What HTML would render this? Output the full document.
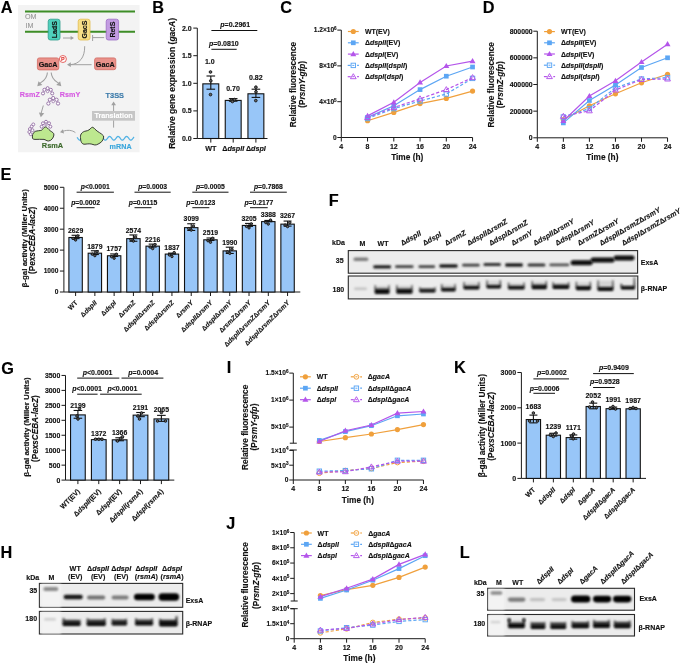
<!DOCTYPE html>
<html><head><meta charset="utf-8"><title>Figure</title>
<style>html,body{margin:0;padding:0;background:#fff;width:685px;height:664px;overflow:hidden}
svg{display:block;will-change:transform;font-family:"Liberation Sans", sans-serif}</style></head>
<body>
<svg width="685" height="664" viewBox="0 0 685 664" font-family='"Liberation Sans", sans-serif'>
<defs><filter id="bl" x="-20%" y="-80%" width="140%" height="260%"><feGaussianBlur stdDeviation="0.8"/></filter><filter id="bl2" x="-20%" y="-80%" width="140%" height="260%"><feGaussianBlur stdDeviation="1.1"/></filter><filter id="bl3" x="-30%" y="-100%" width="160%" height="300%"><feGaussianBlur stdDeviation="1.05"/></filter><linearGradient id="ug" x1="0" y1="0" x2="0" y2="1"><stop offset="0" stop-color="#6a6a6a"/><stop offset="0.45" stop-color="#2a2a2a"/><stop offset="0.7" stop-color="#0a0a0a"/><stop offset="1" stop-color="#050505"/></linearGradient></defs>
<text x="0.70" y="13.10" font-size="16.30" font-weight="bold" text-anchor="start" fill="#000" stroke="#000" stroke-width="0.14">A</text>
<text x="152.30" y="13.30" font-size="16.30" font-weight="bold" text-anchor="start" fill="#000" stroke="#000" stroke-width="0.14">B</text>
<text x="280.20" y="13.30" font-size="16.30" font-weight="bold" text-anchor="start" fill="#000" stroke="#000" stroke-width="0.14">C</text>
<text x="482.70" y="13.30" font-size="16.30" font-weight="bold" text-anchor="start" fill="#000" stroke="#000" stroke-width="0.14">D</text>
<text x="0.50" y="179.50" font-size="16.30" font-weight="bold" text-anchor="start" fill="#000" stroke="#000" stroke-width="0.14">E</text>
<text x="328.70" y="205.90" font-size="16.30" font-weight="bold" text-anchor="start" fill="#000" stroke="#000" stroke-width="0.14">F</text>
<text x="1.20" y="373.70" font-size="16.30" font-weight="bold" text-anchor="start" fill="#000" stroke="#000" stroke-width="0.14">G</text>
<text x="0.60" y="558.30" font-size="16.30" font-weight="bold" text-anchor="start" fill="#000" stroke="#000" stroke-width="0.14">H</text>
<text x="226.70" y="373.30" font-size="16.30" font-weight="bold" text-anchor="start" fill="#000" stroke="#000" stroke-width="0.14">I</text>
<text x="226.20" y="529.10" font-size="16.30" font-weight="bold" text-anchor="start" fill="#000" stroke="#000" stroke-width="0.14">J</text>
<text x="454.10" y="373.30" font-size="16.30" font-weight="bold" text-anchor="start" fill="#000" stroke="#000" stroke-width="0.14">K</text>
<text x="459.70" y="557.70" font-size="16.30" font-weight="bold" text-anchor="start" fill="#000" stroke="#000" stroke-width="0.14">L</text>
<line x1="197.30" y1="28.10" x2="197.30" y2="138.50" stroke="#1a1a1a" stroke-width="1.00"/>
<line x1="193.30" y1="138.50" x2="197.30" y2="138.50" stroke="#1a1a1a" stroke-width="1.00"/>
<text x="191.70" y="141.02" font-size="7.00" font-weight="bold" text-anchor="end" fill="#111" stroke="#111" stroke-width="0.14">0.0</text>
<line x1="193.30" y1="110.90" x2="197.30" y2="110.90" stroke="#1a1a1a" stroke-width="1.00"/>
<text x="191.70" y="113.42" font-size="7.00" font-weight="bold" text-anchor="end" fill="#111" stroke="#111" stroke-width="0.14">0.5</text>
<line x1="193.30" y1="83.30" x2="197.30" y2="83.30" stroke="#1a1a1a" stroke-width="1.00"/>
<text x="191.70" y="85.82" font-size="7.00" font-weight="bold" text-anchor="end" fill="#111" stroke="#111" stroke-width="0.14">1.0</text>
<line x1="193.30" y1="55.70" x2="197.30" y2="55.70" stroke="#1a1a1a" stroke-width="1.00"/>
<text x="191.70" y="58.22" font-size="7.00" font-weight="bold" text-anchor="end" fill="#111" stroke="#111" stroke-width="0.14">1.5</text>
<line x1="193.30" y1="28.10" x2="197.30" y2="28.10" stroke="#1a1a1a" stroke-width="1.00"/>
<text x="191.70" y="30.62" font-size="7.00" font-weight="bold" text-anchor="end" fill="#111" stroke="#111" stroke-width="0.14">2.0</text>
<line x1="197.30" y1="138.50" x2="267.50" y2="138.50" stroke="#1a1a1a" stroke-width="1.00"/>
<line x1="210.80" y1="138.50" x2="210.80" y2="142.60" stroke="#1a1a1a" stroke-width="1.00"/>
<line x1="233.20" y1="138.50" x2="233.20" y2="142.60" stroke="#1a1a1a" stroke-width="1.00"/>
<line x1="255.90" y1="138.50" x2="255.90" y2="142.60" stroke="#1a1a1a" stroke-width="1.00"/>
<rect x="202.85" y="83.85" width="15.90" height="54.65" fill="#98c6f8" stroke="#111" stroke-width="1.10" rx="0.00"/>
<rect x="225.25" y="100.41" width="15.90" height="38.09" fill="#98c6f8" stroke="#111" stroke-width="1.10" rx="0.00"/>
<rect x="247.95" y="93.79" width="15.90" height="44.71" fill="#98c6f8" stroke="#111" stroke-width="1.10" rx="0.00"/>
<line x1="210.80" y1="76.00" x2="210.80" y2="89.20" stroke="#111" stroke-width="1.10"/>
<line x1="206.50" y1="76.00" x2="215.10" y2="76.00" stroke="#111" stroke-width="1.10"/>
<line x1="206.50" y1="89.20" x2="215.10" y2="89.20" stroke="#111" stroke-width="1.10"/>
<circle cx="210.50" cy="72.00" r="1.35" fill="#666" stroke="#111" stroke-width="0.90"/>
<circle cx="210.80" cy="80.80" r="1.35" fill="#666" stroke="#111" stroke-width="0.90"/>
<circle cx="210.50" cy="94.60" r="1.35" fill="#666" stroke="#111" stroke-width="0.90"/>
<line x1="233.20" y1="98.60" x2="233.20" y2="101.20" stroke="#111" stroke-width="1.10"/>
<line x1="228.90" y1="98.60" x2="237.50" y2="98.60" stroke="#111" stroke-width="1.10"/>
<line x1="228.90" y1="101.20" x2="237.50" y2="101.20" stroke="#111" stroke-width="1.10"/>
<circle cx="231.50" cy="100.20" r="1.35" fill="#666" stroke="#111" stroke-width="0.90"/>
<circle cx="234.50" cy="99.60" r="1.35" fill="#666" stroke="#111" stroke-width="0.90"/>
<circle cx="232.40" cy="101.50" r="1.35" fill="#666" stroke="#111" stroke-width="0.90"/>
<line x1="255.90" y1="89.20" x2="255.90" y2="97.40" stroke="#111" stroke-width="1.10"/>
<line x1="251.60" y1="89.20" x2="260.20" y2="89.20" stroke="#111" stroke-width="1.10"/>
<line x1="251.60" y1="97.40" x2="260.20" y2="97.40" stroke="#111" stroke-width="1.10"/>
<circle cx="255.90" cy="87.20" r="1.35" fill="#666" stroke="#111" stroke-width="0.90"/>
<circle cx="256.00" cy="91.80" r="1.35" fill="#666" stroke="#111" stroke-width="0.90"/>
<circle cx="255.80" cy="100.60" r="1.35" fill="#666" stroke="#111" stroke-width="0.90"/>
<text x="209.80" y="64.20" font-size="7.00" font-weight="bold" text-anchor="middle" fill="#111" stroke="#111" stroke-width="0.14">1.0</text>
<text x="233.00" y="91.00" font-size="7.00" font-weight="bold" text-anchor="middle" fill="#111" stroke="#111" stroke-width="0.14">0.70</text>
<text x="255.80" y="80.20" font-size="7.00" font-weight="bold" text-anchor="middle" fill="#111" stroke="#111" stroke-width="0.14">0.82</text>
<line x1="211.40" y1="30.50" x2="257.30" y2="30.50" stroke="#111" stroke-width="1.00"/>
<text x="235.20" y="27.00" font-size="7.00" font-weight="bold" text-anchor="middle" fill="#111" stroke="#111" stroke-width="0.14"><tspan font-style="italic">p</tspan>=0.2961</text>
<line x1="211.40" y1="49.30" x2="236.70" y2="49.30" stroke="#111" stroke-width="1.00"/>
<text x="223.80" y="46.00" font-size="7.00" font-weight="bold" text-anchor="middle" fill="#111" stroke="#111" stroke-width="0.14"><tspan font-style="italic">p</tspan>=0.0810</text>
<text x="210.80" y="150.60" font-size="7.20" font-weight="bold" text-anchor="middle" fill="#111" stroke="#111" stroke-width="0.14">WT</text>
<text x="233.20" y="150.60" font-size="7.20" font-weight="bold" text-anchor="middle" fill="#111" stroke="#111" stroke-width="0.14">Δ<tspan font-style="italic">dspII</tspan></text>
<text x="255.90" y="150.60" font-size="7.20" font-weight="bold" text-anchor="middle" fill="#111" stroke="#111" stroke-width="0.14">Δ<tspan font-style="italic">dspI</tspan></text>
<text x="175.20" y="83.40" font-size="8.50" font-weight="bold" text-anchor="middle" fill="#111" transform="rotate(-90.00 175.20 83.40)" stroke="#111" stroke-width="0.14">Relative gene expression (<tspan font-style="italic">gacA</tspan>)</text>
<line x1="341.30" y1="30.10" x2="341.30" y2="137.50" stroke="#1a1a1a" stroke-width="1.00"/>
<line x1="337.30" y1="137.50" x2="341.30" y2="137.50" stroke="#1a1a1a" stroke-width="1.00"/>
<text x="336.70" y="139.88" font-size="6.60" font-weight="bold" text-anchor="end" fill="#111" stroke="#111" stroke-width="0.14">0</text>
<line x1="337.30" y1="101.70" x2="341.30" y2="101.70" stroke="#1a1a1a" stroke-width="1.00"/>
<text x="336.70" y="104.08" font-size="6.60" font-weight="bold" text-anchor="end" fill="#111" stroke="#111" stroke-width="0.14">4×10<tspan dy="-2.38" font-size="4.62">5</tspan><tspan dy="2.38"> </tspan></text>
<line x1="337.30" y1="65.90" x2="341.30" y2="65.90" stroke="#1a1a1a" stroke-width="1.00"/>
<text x="336.70" y="68.28" font-size="6.60" font-weight="bold" text-anchor="end" fill="#111" stroke="#111" stroke-width="0.14">8×10<tspan dy="-2.38" font-size="4.62">5</tspan><tspan dy="2.38"> </tspan></text>
<line x1="337.30" y1="30.10" x2="341.30" y2="30.10" stroke="#1a1a1a" stroke-width="1.00"/>
<text x="336.70" y="32.48" font-size="6.60" font-weight="bold" text-anchor="end" fill="#111" stroke="#111" stroke-width="0.14">1.2×10<tspan dy="-2.38" font-size="4.62">6</tspan><tspan dy="2.38"> </tspan></text>
<line x1="341.30" y1="137.50" x2="472.55" y2="137.50" stroke="#1a1a1a" stroke-width="1.00"/>
<line x1="341.30" y1="137.50" x2="341.30" y2="141.50" stroke="#1a1a1a" stroke-width="1.00"/>
<text x="341.30" y="148.80" font-size="7.00" font-weight="bold" text-anchor="middle" fill="#111" stroke="#111" stroke-width="0.14">4</text>
<line x1="367.55" y1="137.50" x2="367.55" y2="141.50" stroke="#1a1a1a" stroke-width="1.00"/>
<text x="367.55" y="148.80" font-size="7.00" font-weight="bold" text-anchor="middle" fill="#111" stroke="#111" stroke-width="0.14">8</text>
<line x1="393.80" y1="137.50" x2="393.80" y2="141.50" stroke="#1a1a1a" stroke-width="1.00"/>
<text x="393.80" y="148.80" font-size="7.00" font-weight="bold" text-anchor="middle" fill="#111" stroke="#111" stroke-width="0.14">12</text>
<line x1="420.05" y1="137.50" x2="420.05" y2="141.50" stroke="#1a1a1a" stroke-width="1.00"/>
<text x="420.05" y="148.80" font-size="7.00" font-weight="bold" text-anchor="middle" fill="#111" stroke="#111" stroke-width="0.14">16</text>
<line x1="446.30" y1="137.50" x2="446.30" y2="141.50" stroke="#1a1a1a" stroke-width="1.00"/>
<text x="446.30" y="148.80" font-size="7.00" font-weight="bold" text-anchor="middle" fill="#111" stroke="#111" stroke-width="0.14">20</text>
<line x1="472.55" y1="137.50" x2="472.55" y2="141.50" stroke="#1a1a1a" stroke-width="1.00"/>
<text x="472.55" y="148.80" font-size="7.00" font-weight="bold" text-anchor="middle" fill="#111" stroke="#111" stroke-width="0.14">24</text>
<text x="407.20" y="159.90" font-size="8.30" font-weight="bold" text-anchor="middle" fill="#111" stroke="#111" stroke-width="0.14">Time (h)</text>
<polyline points="367.55,120.70 393.80,112.40 420.05,103.60 446.30,98.40 472.55,91.10" fill="none" stroke="#f0a03c" stroke-width="1.20"/>
<circle cx="367.55" cy="120.70" r="2.60" fill="#f0a03c" stroke="none" stroke-width="1.00"/>
<circle cx="393.80" cy="112.40" r="2.60" fill="#f0a03c" stroke="none" stroke-width="1.00"/>
<circle cx="420.05" cy="103.60" r="2.60" fill="#f0a03c" stroke="none" stroke-width="1.00"/>
<circle cx="446.30" cy="98.40" r="2.60" fill="#f0a03c" stroke="none" stroke-width="1.00"/>
<circle cx="472.55" cy="91.10" r="2.60" fill="#f0a03c" stroke="none" stroke-width="1.00"/>
<polyline points="367.55,117.40 393.80,105.80 420.05,89.60 446.30,76.20 472.55,67.00" fill="none" stroke="#5ca6f4" stroke-width="1.20"/>
<rect x="365.20" y="115.05" width="4.70" height="4.70" fill="#5ca6f4" stroke="none" stroke-width="1.00" rx="0.00"/>
<rect x="391.45" y="103.45" width="4.70" height="4.70" fill="#5ca6f4" stroke="none" stroke-width="1.00" rx="0.00"/>
<rect x="417.70" y="87.25" width="4.70" height="4.70" fill="#5ca6f4" stroke="none" stroke-width="1.00" rx="0.00"/>
<rect x="443.95" y="73.85" width="4.70" height="4.70" fill="#5ca6f4" stroke="none" stroke-width="1.00" rx="0.00"/>
<rect x="470.20" y="64.65" width="4.70" height="4.70" fill="#5ca6f4" stroke="none" stroke-width="1.00" rx="0.00"/>
<polyline points="367.55,115.90 393.80,102.30 420.05,82.40 446.30,66.00 472.55,61.10" fill="none" stroke="#b455ea" stroke-width="1.20"/>
<path d="M367.55 112.78 L370.55 117.98 L364.55 117.98 Z" fill="#b455ea" stroke="none" stroke-width="1.00"/>
<path d="M393.80 99.18 L396.80 104.38 L390.80 104.38 Z" fill="#b455ea" stroke="none" stroke-width="1.00"/>
<path d="M420.05 79.28 L423.05 84.48 L417.05 84.48 Z" fill="#b455ea" stroke="none" stroke-width="1.00"/>
<path d="M446.30 62.88 L449.30 68.08 L443.30 68.08 Z" fill="#b455ea" stroke="none" stroke-width="1.00"/>
<path d="M472.55 57.98 L475.55 63.18 L469.55 63.18 Z" fill="#b455ea" stroke="none" stroke-width="1.00"/>
<polyline points="367.55,118.50 393.80,108.60 420.05,101.00 446.30,94.00 472.55,78.40" fill="none" stroke="#5ca6f4" stroke-width="1.20" stroke-dasharray="3.2,2.0"/>
<rect x="365.35" y="116.30" width="4.40" height="4.40" fill="none" stroke="#5ca6f4" stroke-width="0.95" rx="0.00"/>
<rect x="391.60" y="106.40" width="4.40" height="4.40" fill="none" stroke="#5ca6f4" stroke-width="0.95" rx="0.00"/>
<rect x="417.85" y="98.80" width="4.40" height="4.40" fill="none" stroke="#5ca6f4" stroke-width="0.95" rx="0.00"/>
<rect x="444.10" y="91.80" width="4.40" height="4.40" fill="none" stroke="#5ca6f4" stroke-width="0.95" rx="0.00"/>
<rect x="470.35" y="76.20" width="4.40" height="4.40" fill="none" stroke="#5ca6f4" stroke-width="0.95" rx="0.00"/>
<polyline points="367.55,117.50 393.80,107.50 420.05,98.80 446.30,89.60 472.55,77.60" fill="none" stroke="#b455ea" stroke-width="1.20" stroke-dasharray="3.2,2.0"/>
<path d="M367.55 114.50 L370.45 119.50 L364.65 119.50 Z" fill="none" stroke="#b455ea" stroke-width="0.95"/>
<path d="M393.80 104.50 L396.70 109.50 L390.90 109.50 Z" fill="none" stroke="#b455ea" stroke-width="0.95"/>
<path d="M420.05 95.80 L422.95 100.80 L417.15 100.80 Z" fill="none" stroke="#b455ea" stroke-width="0.95"/>
<path d="M446.30 86.60 L449.20 91.60 L443.40 91.60 Z" fill="none" stroke="#b455ea" stroke-width="0.95"/>
<path d="M472.55 74.60 L475.45 79.60 L469.65 79.60 Z" fill="none" stroke="#b455ea" stroke-width="0.95"/>
<line x1="347.90" y1="31.50" x2="358.70" y2="31.50" stroke="#f0a03c" stroke-width="1.20"/>
<circle cx="353.30" cy="31.50" r="2.60" fill="#f0a03c" stroke="none" stroke-width="1.00"/>
<text x="364.90" y="34.00" font-size="7.00" font-weight="bold" text-anchor="start" fill="#111" stroke="#111" stroke-width="0.14">WT(EV)</text>
<line x1="347.90" y1="42.80" x2="358.70" y2="42.80" stroke="#5ca6f4" stroke-width="1.20"/>
<rect x="350.95" y="40.45" width="4.70" height="4.70" fill="#5ca6f4" stroke="none" stroke-width="1.00" rx="0.00"/>
<text x="364.90" y="45.30" font-size="7.00" font-weight="bold" text-anchor="start" fill="#111" stroke="#111" stroke-width="0.14">Δ<tspan font-style="italic">dspII</tspan>(EV)</text>
<line x1="347.90" y1="54.10" x2="358.70" y2="54.10" stroke="#b455ea" stroke-width="1.20"/>
<path d="M353.30 50.98 L356.30 56.18 L350.30 56.18 Z" fill="#b455ea" stroke="none" stroke-width="1.00"/>
<text x="364.90" y="56.60" font-size="7.00" font-weight="bold" text-anchor="start" fill="#111" stroke="#111" stroke-width="0.14">Δ<tspan font-style="italic">dspI</tspan>(EV)</text>
<line x1="347.70" y1="65.40" x2="350.70" y2="65.40" stroke="#5ca6f4" stroke-width="1.20"/>
<line x1="352.30" y1="65.40" x2="354.30" y2="65.40" stroke="#5ca6f4" stroke-width="1.00"/>
<line x1="357.10" y1="65.40" x2="358.90" y2="65.40" stroke="#5ca6f4" stroke-width="1.20"/>
<rect x="351.10" y="63.20" width="4.40" height="4.40" fill="none" stroke="#5ca6f4" stroke-width="0.95" rx="0.00"/>
<text x="364.90" y="67.90" font-size="7.00" font-weight="bold" text-anchor="start" fill="#111" stroke="#111" stroke-width="0.14">Δ<tspan font-style="italic">dspII</tspan>(<tspan font-style="italic">dspII</tspan>)</text>
<line x1="347.70" y1="76.70" x2="350.70" y2="76.70" stroke="#b455ea" stroke-width="1.20"/>
<line x1="352.30" y1="76.70" x2="354.30" y2="76.70" stroke="#b455ea" stroke-width="1.00"/>
<line x1="357.10" y1="76.70" x2="358.90" y2="76.70" stroke="#b455ea" stroke-width="1.20"/>
<path d="M353.30 73.70 L356.20 78.70 L350.40 78.70 Z" fill="none" stroke="#b455ea" stroke-width="0.95"/>
<text x="364.90" y="79.20" font-size="7.00" font-weight="bold" text-anchor="start" fill="#111" stroke="#111" stroke-width="0.14">Δ<tspan font-style="italic">dspI</tspan>(<tspan font-style="italic">dspI</tspan>)</text>
<text x="295.60" y="84.50" font-size="8.30" font-weight="bold" text-anchor="middle" fill="#111" transform="rotate(-90.00 295.60 84.50)" stroke="#111" stroke-width="0.14">Relative fluorescence</text>
<text x="304.90" y="84.30" font-size="8.30" font-weight="bold" text-anchor="middle" fill="#111" transform="rotate(-90.00 304.90 84.30)" stroke="#111" stroke-width="0.14">(P<tspan font-style="italic">rsmY-gfp</tspan>)</text>
<line x1="537.30" y1="31.20" x2="537.30" y2="137.80" stroke="#1a1a1a" stroke-width="1.00"/>
<line x1="533.30" y1="137.80" x2="537.30" y2="137.80" stroke="#1a1a1a" stroke-width="1.00"/>
<text x="532.70" y="140.28" font-size="6.90" font-weight="bold" text-anchor="end" fill="#111" stroke="#111" stroke-width="0.14">0</text>
<line x1="533.30" y1="111.15" x2="537.30" y2="111.15" stroke="#1a1a1a" stroke-width="1.00"/>
<text x="532.70" y="113.63" font-size="6.90" font-weight="bold" text-anchor="end" fill="#111" stroke="#111" stroke-width="0.14">200000</text>
<line x1="533.30" y1="84.50" x2="537.30" y2="84.50" stroke="#1a1a1a" stroke-width="1.00"/>
<text x="532.70" y="86.98" font-size="6.90" font-weight="bold" text-anchor="end" fill="#111" stroke="#111" stroke-width="0.14">400000</text>
<line x1="533.30" y1="57.85" x2="537.30" y2="57.85" stroke="#1a1a1a" stroke-width="1.00"/>
<text x="532.70" y="60.33" font-size="6.90" font-weight="bold" text-anchor="end" fill="#111" stroke="#111" stroke-width="0.14">600000</text>
<line x1="533.30" y1="31.20" x2="537.30" y2="31.20" stroke="#1a1a1a" stroke-width="1.00"/>
<text x="532.70" y="33.68" font-size="6.90" font-weight="bold" text-anchor="end" fill="#111" stroke="#111" stroke-width="0.14">800000</text>
<line x1="537.30" y1="137.80" x2="667.55" y2="137.80" stroke="#1a1a1a" stroke-width="1.00"/>
<line x1="537.30" y1="137.80" x2="537.30" y2="141.80" stroke="#1a1a1a" stroke-width="1.00"/>
<text x="537.30" y="149.10" font-size="7.00" font-weight="bold" text-anchor="middle" fill="#111" stroke="#111" stroke-width="0.14">4</text>
<line x1="563.35" y1="137.80" x2="563.35" y2="141.80" stroke="#1a1a1a" stroke-width="1.00"/>
<text x="563.35" y="149.10" font-size="7.00" font-weight="bold" text-anchor="middle" fill="#111" stroke="#111" stroke-width="0.14">8</text>
<line x1="589.40" y1="137.80" x2="589.40" y2="141.80" stroke="#1a1a1a" stroke-width="1.00"/>
<text x="589.40" y="149.10" font-size="7.00" font-weight="bold" text-anchor="middle" fill="#111" stroke="#111" stroke-width="0.14">12</text>
<line x1="615.45" y1="137.80" x2="615.45" y2="141.80" stroke="#1a1a1a" stroke-width="1.00"/>
<text x="615.45" y="149.10" font-size="7.00" font-weight="bold" text-anchor="middle" fill="#111" stroke="#111" stroke-width="0.14">16</text>
<line x1="641.50" y1="137.80" x2="641.50" y2="141.80" stroke="#1a1a1a" stroke-width="1.00"/>
<text x="641.50" y="149.10" font-size="7.00" font-weight="bold" text-anchor="middle" fill="#111" stroke="#111" stroke-width="0.14">20</text>
<line x1="667.55" y1="137.80" x2="667.55" y2="141.80" stroke="#1a1a1a" stroke-width="1.00"/>
<text x="667.55" y="149.10" font-size="7.00" font-weight="bold" text-anchor="middle" fill="#111" stroke="#111" stroke-width="0.14">24</text>
<text x="602.40" y="160.20" font-size="8.30" font-weight="bold" text-anchor="middle" fill="#111" stroke="#111" stroke-width="0.14">Time (h)</text>
<polyline points="563.35,119.50 589.40,105.80 615.45,93.80 641.50,82.80 667.55,74.30" fill="none" stroke="#f0a03c" stroke-width="1.20"/>
<circle cx="563.35" cy="119.50" r="2.60" fill="#f0a03c" stroke="none" stroke-width="1.00"/>
<circle cx="589.40" cy="105.80" r="2.60" fill="#f0a03c" stroke="none" stroke-width="1.00"/>
<circle cx="615.45" cy="93.80" r="2.60" fill="#f0a03c" stroke="none" stroke-width="1.00"/>
<circle cx="641.50" cy="82.80" r="2.60" fill="#f0a03c" stroke="none" stroke-width="1.00"/>
<circle cx="667.55" cy="74.30" r="2.60" fill="#f0a03c" stroke="none" stroke-width="1.00"/>
<polyline points="563.35,122.90 589.40,100.50 615.45,85.00 641.50,67.50 667.55,57.80" fill="none" stroke="#5ca6f4" stroke-width="1.20"/>
<rect x="561.00" y="120.55" width="4.70" height="4.70" fill="#5ca6f4" stroke="none" stroke-width="1.00" rx="0.00"/>
<rect x="587.05" y="98.15" width="4.70" height="4.70" fill="#5ca6f4" stroke="none" stroke-width="1.00" rx="0.00"/>
<rect x="613.10" y="82.65" width="4.70" height="4.70" fill="#5ca6f4" stroke="none" stroke-width="1.00" rx="0.00"/>
<rect x="639.15" y="65.15" width="4.70" height="4.70" fill="#5ca6f4" stroke="none" stroke-width="1.00" rx="0.00"/>
<rect x="665.20" y="55.45" width="4.70" height="4.70" fill="#5ca6f4" stroke="none" stroke-width="1.00" rx="0.00"/>
<polyline points="563.35,121.00 589.40,96.00 615.45,80.80 641.50,62.00 667.55,44.20" fill="none" stroke="#b455ea" stroke-width="1.20"/>
<path d="M563.35 117.88 L566.35 123.08 L560.35 123.08 Z" fill="#b455ea" stroke="none" stroke-width="1.00"/>
<path d="M589.40 92.88 L592.40 98.08 L586.40 98.08 Z" fill="#b455ea" stroke="none" stroke-width="1.00"/>
<path d="M615.45 77.68 L618.45 82.88 L612.45 82.88 Z" fill="#b455ea" stroke="none" stroke-width="1.00"/>
<path d="M641.50 58.88 L644.50 64.08 L638.50 64.08 Z" fill="#b455ea" stroke="none" stroke-width="1.00"/>
<path d="M667.55 41.08 L670.55 46.28 L664.55 46.28 Z" fill="#b455ea" stroke="none" stroke-width="1.00"/>
<polyline points="563.35,117.00 589.40,108.60 615.45,87.80 641.50,79.00 667.55,77.60" fill="none" stroke="#5ca6f4" stroke-width="1.20" stroke-dasharray="3.2,2.0"/>
<rect x="561.15" y="114.80" width="4.40" height="4.40" fill="none" stroke="#5ca6f4" stroke-width="0.95" rx="0.00"/>
<rect x="587.20" y="106.40" width="4.40" height="4.40" fill="none" stroke="#5ca6f4" stroke-width="0.95" rx="0.00"/>
<rect x="613.25" y="85.60" width="4.40" height="4.40" fill="none" stroke="#5ca6f4" stroke-width="0.95" rx="0.00"/>
<rect x="639.30" y="76.80" width="4.40" height="4.40" fill="none" stroke="#5ca6f4" stroke-width="0.95" rx="0.00"/>
<rect x="665.35" y="75.40" width="4.40" height="4.40" fill="none" stroke="#5ca6f4" stroke-width="0.95" rx="0.00"/>
<polyline points="563.35,116.30 589.40,110.80 615.45,90.00 641.50,79.50 667.55,79.00" fill="none" stroke="#b455ea" stroke-width="1.20" stroke-dasharray="3.2,2.0"/>
<path d="M563.35 113.30 L566.25 118.30 L560.45 118.30 Z" fill="none" stroke="#b455ea" stroke-width="0.95"/>
<path d="M589.40 107.80 L592.30 112.80 L586.50 112.80 Z" fill="none" stroke="#b455ea" stroke-width="0.95"/>
<path d="M615.45 87.00 L618.35 92.00 L612.55 92.00 Z" fill="none" stroke="#b455ea" stroke-width="0.95"/>
<path d="M641.50 76.50 L644.40 81.50 L638.60 81.50 Z" fill="none" stroke="#b455ea" stroke-width="0.95"/>
<path d="M667.55 76.00 L670.45 81.00 L664.65 81.00 Z" fill="none" stroke="#b455ea" stroke-width="0.95"/>
<line x1="544.10" y1="31.60" x2="554.90" y2="31.60" stroke="#f0a03c" stroke-width="1.20"/>
<circle cx="549.50" cy="31.60" r="2.60" fill="#f0a03c" stroke="none" stroke-width="1.00"/>
<text x="561.00" y="34.10" font-size="7.00" font-weight="bold" text-anchor="start" fill="#111" stroke="#111" stroke-width="0.14">WT(EV)</text>
<line x1="544.10" y1="42.80" x2="554.90" y2="42.80" stroke="#5ca6f4" stroke-width="1.20"/>
<rect x="547.15" y="40.45" width="4.70" height="4.70" fill="#5ca6f4" stroke="none" stroke-width="1.00" rx="0.00"/>
<text x="561.00" y="45.30" font-size="7.00" font-weight="bold" text-anchor="start" fill="#111" stroke="#111" stroke-width="0.14">Δ<tspan font-style="italic">dspII</tspan>(EV)</text>
<line x1="544.10" y1="54.00" x2="554.90" y2="54.00" stroke="#b455ea" stroke-width="1.20"/>
<path d="M549.50 50.88 L552.50 56.08 L546.50 56.08 Z" fill="#b455ea" stroke="none" stroke-width="1.00"/>
<text x="561.00" y="56.50" font-size="7.00" font-weight="bold" text-anchor="start" fill="#111" stroke="#111" stroke-width="0.14">Δ<tspan font-style="italic">dspI</tspan>(EV)</text>
<line x1="543.90" y1="65.20" x2="546.90" y2="65.20" stroke="#5ca6f4" stroke-width="1.20"/>
<line x1="548.50" y1="65.20" x2="550.50" y2="65.20" stroke="#5ca6f4" stroke-width="1.00"/>
<line x1="553.30" y1="65.20" x2="555.10" y2="65.20" stroke="#5ca6f4" stroke-width="1.20"/>
<rect x="547.30" y="63.00" width="4.40" height="4.40" fill="none" stroke="#5ca6f4" stroke-width="0.95" rx="0.00"/>
<text x="561.00" y="67.70" font-size="7.00" font-weight="bold" text-anchor="start" fill="#111" stroke="#111" stroke-width="0.14">Δ<tspan font-style="italic">dspII</tspan>(<tspan font-style="italic">dspII</tspan>)</text>
<line x1="543.90" y1="76.60" x2="546.90" y2="76.60" stroke="#b455ea" stroke-width="1.20"/>
<line x1="548.50" y1="76.60" x2="550.50" y2="76.60" stroke="#b455ea" stroke-width="1.00"/>
<line x1="553.30" y1="76.60" x2="555.10" y2="76.60" stroke="#b455ea" stroke-width="1.20"/>
<path d="M549.50 73.60 L552.40 78.60 L546.60 78.60 Z" fill="none" stroke="#b455ea" stroke-width="0.95"/>
<text x="561.00" y="79.10" font-size="7.00" font-weight="bold" text-anchor="start" fill="#111" stroke="#111" stroke-width="0.14">Δ<tspan font-style="italic">dspI</tspan>(<tspan font-style="italic">dspI</tspan>)</text>
<text x="493.60" y="84.70" font-size="8.30" font-weight="bold" text-anchor="middle" fill="#111" transform="rotate(-90.00 493.60 84.70)" stroke="#111" stroke-width="0.14">Relative fluorescence</text>
<text x="502.80" y="84.70" font-size="8.30" font-weight="bold" text-anchor="middle" fill="#111" transform="rotate(-90.00 502.80 84.70)" stroke="#111" stroke-width="0.14">(P<tspan font-style="italic">rsmZ-gfp</tspan>)</text>
<line x1="63.90" y1="187.30" x2="63.90" y2="292.00" stroke="#1a1a1a" stroke-width="1.00"/>
<line x1="59.90" y1="292.00" x2="63.90" y2="292.00" stroke="#1a1a1a" stroke-width="1.00"/>
<text x="58.30" y="294.38" font-size="6.60" font-weight="bold" text-anchor="end" fill="#111" stroke="#111" stroke-width="0.14">0</text>
<line x1="59.90" y1="271.06" x2="63.90" y2="271.06" stroke="#1a1a1a" stroke-width="1.00"/>
<text x="58.30" y="273.44" font-size="6.60" font-weight="bold" text-anchor="end" fill="#111" stroke="#111" stroke-width="0.14">1000</text>
<line x1="59.90" y1="250.12" x2="63.90" y2="250.12" stroke="#1a1a1a" stroke-width="1.00"/>
<text x="58.30" y="252.50" font-size="6.60" font-weight="bold" text-anchor="end" fill="#111" stroke="#111" stroke-width="0.14">2000</text>
<line x1="59.90" y1="229.18" x2="63.90" y2="229.18" stroke="#1a1a1a" stroke-width="1.00"/>
<text x="58.30" y="231.56" font-size="6.60" font-weight="bold" text-anchor="end" fill="#111" stroke="#111" stroke-width="0.14">3000</text>
<line x1="59.90" y1="208.24" x2="63.90" y2="208.24" stroke="#1a1a1a" stroke-width="1.00"/>
<text x="58.30" y="210.62" font-size="6.60" font-weight="bold" text-anchor="end" fill="#111" stroke="#111" stroke-width="0.14">4000</text>
<line x1="59.90" y1="187.30" x2="63.90" y2="187.30" stroke="#1a1a1a" stroke-width="1.00"/>
<text x="58.30" y="189.68" font-size="6.60" font-weight="bold" text-anchor="end" fill="#111" stroke="#111" stroke-width="0.14">5000</text>
<line x1="63.90" y1="292.00" x2="300.30" y2="292.00" stroke="#1a1a1a" stroke-width="1.00"/>
<rect x="68.90" y="237.50" width="13.40" height="54.50" fill="#98c6f8" stroke="#111" stroke-width="1.10" rx="0.00"/>
<line x1="75.60" y1="238.62" x2="75.60" y2="235.27" stroke="#111" stroke-width="1.10"/>
<line x1="71.60" y1="238.62" x2="79.60" y2="238.62" stroke="#111" stroke-width="1.10"/>
<line x1="71.60" y1="235.27" x2="79.60" y2="235.27" stroke="#111" stroke-width="1.10"/>
<circle cx="73.10" cy="238.45" r="1.20" fill="#666" stroke="#111" stroke-width="0.90"/>
<circle cx="77.80" cy="235.95" r="1.20" fill="#666" stroke="#111" stroke-width="0.90"/>
<circle cx="75.60" cy="239.95" r="1.20" fill="#666" stroke="#111" stroke-width="0.90"/>
<text x="75.60" y="232.60" font-size="6.85" font-weight="bold" text-anchor="middle" fill="#111" stroke="#111" stroke-width="0.14">2629</text>
<line x1="75.60" y1="292.00" x2="75.60" y2="296.00" stroke="#1a1a1a" stroke-width="1.00"/>
<text x="78.00" y="303.20" font-size="6.60" font-weight="bold" text-anchor="end" fill="#111" transform="rotate(-45.00 78.00 303.20)" stroke="#111" stroke-width="0.14">WT</text>
<rect x="88.17" y="253.20" width="13.40" height="38.80" fill="#98c6f8" stroke="#111" stroke-width="1.10" rx="0.00"/>
<line x1="94.87" y1="254.54" x2="94.87" y2="250.77" stroke="#111" stroke-width="1.10"/>
<line x1="90.87" y1="254.54" x2="98.87" y2="254.54" stroke="#111" stroke-width="1.10"/>
<line x1="90.87" y1="250.77" x2="98.87" y2="250.77" stroke="#111" stroke-width="1.10"/>
<circle cx="92.37" cy="254.15" r="1.20" fill="#666" stroke="#111" stroke-width="0.90"/>
<circle cx="97.07" cy="251.65" r="1.20" fill="#666" stroke="#111" stroke-width="0.90"/>
<circle cx="94.87" cy="255.65" r="1.20" fill="#666" stroke="#111" stroke-width="0.90"/>
<text x="94.87" y="248.80" font-size="6.85" font-weight="bold" text-anchor="middle" fill="#111" stroke="#111" stroke-width="0.14">1879</text>
<line x1="94.87" y1="292.00" x2="94.87" y2="296.00" stroke="#1a1a1a" stroke-width="1.00"/>
<text x="97.27" y="303.20" font-size="6.60" font-weight="bold" text-anchor="end" fill="#111" transform="rotate(-45.00 97.27 303.20)" stroke="#111" stroke-width="0.14">Δ<tspan font-style="italic">dspII</tspan></text>
<rect x="107.44" y="255.76" width="13.40" height="36.24" fill="#98c6f8" stroke="#111" stroke-width="1.10" rx="0.00"/>
<line x1="114.14" y1="256.46" x2="114.14" y2="253.95" stroke="#111" stroke-width="1.10"/>
<line x1="110.14" y1="256.46" x2="118.14" y2="256.46" stroke="#111" stroke-width="1.10"/>
<line x1="110.14" y1="253.95" x2="118.14" y2="253.95" stroke="#111" stroke-width="1.10"/>
<circle cx="111.64" cy="256.71" r="1.20" fill="#666" stroke="#111" stroke-width="0.90"/>
<circle cx="116.34" cy="254.21" r="1.20" fill="#666" stroke="#111" stroke-width="0.90"/>
<circle cx="114.14" cy="258.21" r="1.20" fill="#666" stroke="#111" stroke-width="0.90"/>
<text x="114.14" y="251.20" font-size="6.85" font-weight="bold" text-anchor="middle" fill="#111" stroke="#111" stroke-width="0.14">1757</text>
<line x1="114.14" y1="292.00" x2="114.14" y2="296.00" stroke="#1a1a1a" stroke-width="1.00"/>
<text x="116.54" y="303.20" font-size="6.60" font-weight="bold" text-anchor="end" fill="#111" transform="rotate(-45.00 116.54 303.20)" stroke="#111" stroke-width="0.14">Δ<tspan font-style="italic">dspI</tspan></text>
<rect x="126.71" y="238.65" width="13.40" height="53.35" fill="#98c6f8" stroke="#111" stroke-width="1.10" rx="0.00"/>
<line x1="133.41" y1="241.24" x2="133.41" y2="234.96" stroke="#111" stroke-width="1.10"/>
<line x1="129.41" y1="241.24" x2="137.41" y2="241.24" stroke="#111" stroke-width="1.10"/>
<line x1="129.41" y1="234.96" x2="137.41" y2="234.96" stroke="#111" stroke-width="1.10"/>
<circle cx="130.91" cy="239.60" r="1.20" fill="#666" stroke="#111" stroke-width="0.90"/>
<circle cx="135.61" cy="237.10" r="1.20" fill="#666" stroke="#111" stroke-width="0.90"/>
<circle cx="133.41" cy="241.10" r="1.20" fill="#666" stroke="#111" stroke-width="0.90"/>
<text x="133.41" y="233.00" font-size="6.85" font-weight="bold" text-anchor="middle" fill="#111" stroke="#111" stroke-width="0.14">2574</text>
<line x1="133.41" y1="292.00" x2="133.41" y2="296.00" stroke="#1a1a1a" stroke-width="1.00"/>
<text x="135.81" y="303.20" font-size="6.60" font-weight="bold" text-anchor="end" fill="#111" transform="rotate(-45.00 135.81 303.20)" stroke="#111" stroke-width="0.14">Δ<tspan font-style="italic">rsmZ</tspan></text>
<rect x="145.98" y="246.15" width="13.40" height="45.85" fill="#98c6f8" stroke="#111" stroke-width="1.10" rx="0.00"/>
<line x1="152.68" y1="247.06" x2="152.68" y2="244.13" stroke="#111" stroke-width="1.10"/>
<line x1="148.68" y1="247.06" x2="156.68" y2="247.06" stroke="#111" stroke-width="1.10"/>
<line x1="148.68" y1="244.13" x2="156.68" y2="244.13" stroke="#111" stroke-width="1.10"/>
<circle cx="150.18" cy="247.10" r="1.20" fill="#666" stroke="#111" stroke-width="0.90"/>
<circle cx="154.88" cy="244.60" r="1.20" fill="#666" stroke="#111" stroke-width="0.90"/>
<circle cx="152.68" cy="248.60" r="1.20" fill="#666" stroke="#111" stroke-width="0.90"/>
<text x="152.68" y="241.70" font-size="6.85" font-weight="bold" text-anchor="middle" fill="#111" stroke="#111" stroke-width="0.14">2216</text>
<line x1="152.68" y1="292.00" x2="152.68" y2="296.00" stroke="#1a1a1a" stroke-width="1.00"/>
<text x="155.08" y="303.20" font-size="6.60" font-weight="bold" text-anchor="end" fill="#111" transform="rotate(-45.00 155.08 303.20)" stroke="#111" stroke-width="0.14">Δ<tspan font-style="italic">dspII</tspan>Δ<tspan font-style="italic">rsmZ</tspan></text>
<rect x="165.25" y="254.08" width="13.40" height="37.92" fill="#98c6f8" stroke="#111" stroke-width="1.10" rx="0.00"/>
<line x1="171.95" y1="253.95" x2="171.95" y2="253.11" stroke="#111" stroke-width="1.10"/>
<line x1="167.95" y1="253.95" x2="175.95" y2="253.95" stroke="#111" stroke-width="1.10"/>
<line x1="167.95" y1="253.11" x2="175.95" y2="253.11" stroke="#111" stroke-width="1.10"/>
<circle cx="169.45" cy="255.03" r="1.20" fill="#666" stroke="#111" stroke-width="0.90"/>
<circle cx="174.15" cy="252.53" r="1.20" fill="#666" stroke="#111" stroke-width="0.90"/>
<circle cx="171.95" cy="256.53" r="1.20" fill="#666" stroke="#111" stroke-width="0.90"/>
<text x="171.95" y="250.10" font-size="6.85" font-weight="bold" text-anchor="middle" fill="#111" stroke="#111" stroke-width="0.14">1837</text>
<line x1="171.95" y1="292.00" x2="171.95" y2="296.00" stroke="#1a1a1a" stroke-width="1.00"/>
<text x="174.35" y="303.20" font-size="6.60" font-weight="bold" text-anchor="end" fill="#111" transform="rotate(-45.00 174.35 303.20)" stroke="#111" stroke-width="0.14">Δ<tspan font-style="italic">dspI</tspan>Δ<tspan font-style="italic">rsmZ</tspan></text>
<rect x="184.52" y="227.66" width="13.40" height="64.34" fill="#98c6f8" stroke="#111" stroke-width="1.10" rx="0.00"/>
<line x1="191.22" y1="230.46" x2="191.22" y2="223.76" stroke="#111" stroke-width="1.10"/>
<line x1="187.22" y1="230.46" x2="195.22" y2="230.46" stroke="#111" stroke-width="1.10"/>
<line x1="187.22" y1="223.76" x2="195.22" y2="223.76" stroke="#111" stroke-width="1.10"/>
<circle cx="188.72" cy="228.61" r="1.20" fill="#666" stroke="#111" stroke-width="0.90"/>
<circle cx="193.42" cy="226.11" r="1.20" fill="#666" stroke="#111" stroke-width="0.90"/>
<circle cx="191.22" cy="230.11" r="1.20" fill="#666" stroke="#111" stroke-width="0.90"/>
<text x="191.22" y="221.20" font-size="6.85" font-weight="bold" text-anchor="middle" fill="#111" stroke="#111" stroke-width="0.14">3099</text>
<line x1="191.22" y1="292.00" x2="191.22" y2="296.00" stroke="#1a1a1a" stroke-width="1.00"/>
<text x="193.62" y="303.20" font-size="6.60" font-weight="bold" text-anchor="end" fill="#111" transform="rotate(-45.00 193.62 303.20)" stroke="#111" stroke-width="0.14">Δ<tspan font-style="italic">rsmY</tspan></text>
<rect x="203.79" y="239.80" width="13.40" height="52.20" fill="#98c6f8" stroke="#111" stroke-width="1.10" rx="0.00"/>
<line x1="210.49" y1="240.51" x2="210.49" y2="238.00" stroke="#111" stroke-width="1.10"/>
<line x1="206.49" y1="240.51" x2="214.49" y2="240.51" stroke="#111" stroke-width="1.10"/>
<line x1="206.49" y1="238.00" x2="214.49" y2="238.00" stroke="#111" stroke-width="1.10"/>
<circle cx="207.99" cy="240.75" r="1.20" fill="#666" stroke="#111" stroke-width="0.90"/>
<circle cx="212.69" cy="238.25" r="1.20" fill="#666" stroke="#111" stroke-width="0.90"/>
<circle cx="210.49" cy="242.25" r="1.20" fill="#666" stroke="#111" stroke-width="0.90"/>
<text x="210.49" y="235.10" font-size="6.85" font-weight="bold" text-anchor="middle" fill="#111" stroke="#111" stroke-width="0.14">2519</text>
<line x1="210.49" y1="292.00" x2="210.49" y2="296.00" stroke="#1a1a1a" stroke-width="1.00"/>
<text x="212.89" y="303.20" font-size="6.60" font-weight="bold" text-anchor="end" fill="#111" transform="rotate(-45.00 212.89 303.20)" stroke="#111" stroke-width="0.14">Δ<tspan font-style="italic">dspII</tspan>Δ<tspan font-style="italic">rsmY</tspan></text>
<rect x="223.06" y="250.88" width="13.40" height="41.12" fill="#98c6f8" stroke="#111" stroke-width="1.10" rx="0.00"/>
<line x1="229.76" y1="253.47" x2="229.76" y2="247.19" stroke="#111" stroke-width="1.10"/>
<line x1="225.76" y1="253.47" x2="233.76" y2="253.47" stroke="#111" stroke-width="1.10"/>
<line x1="225.76" y1="247.19" x2="233.76" y2="247.19" stroke="#111" stroke-width="1.10"/>
<circle cx="227.26" cy="251.83" r="1.20" fill="#666" stroke="#111" stroke-width="0.90"/>
<circle cx="231.96" cy="249.33" r="1.20" fill="#666" stroke="#111" stroke-width="0.90"/>
<circle cx="229.76" cy="253.33" r="1.20" fill="#666" stroke="#111" stroke-width="0.90"/>
<text x="229.76" y="245.10" font-size="6.85" font-weight="bold" text-anchor="middle" fill="#111" stroke="#111" stroke-width="0.14">1990</text>
<line x1="229.76" y1="292.00" x2="229.76" y2="296.00" stroke="#1a1a1a" stroke-width="1.00"/>
<text x="232.16" y="303.20" font-size="6.60" font-weight="bold" text-anchor="end" fill="#111" transform="rotate(-45.00 232.16 303.20)" stroke="#111" stroke-width="0.14">Δ<tspan font-style="italic">dspI</tspan>Δ<tspan font-style="italic">rsmY</tspan></text>
<rect x="242.33" y="225.44" width="13.40" height="66.56" fill="#98c6f8" stroke="#111" stroke-width="1.10" rx="0.00"/>
<line x1="249.03" y1="226.35" x2="249.03" y2="223.42" stroke="#111" stroke-width="1.10"/>
<line x1="245.03" y1="226.35" x2="253.03" y2="226.35" stroke="#111" stroke-width="1.10"/>
<line x1="245.03" y1="223.42" x2="253.03" y2="223.42" stroke="#111" stroke-width="1.10"/>
<circle cx="246.53" cy="226.39" r="1.20" fill="#666" stroke="#111" stroke-width="0.90"/>
<circle cx="251.23" cy="223.89" r="1.20" fill="#666" stroke="#111" stroke-width="0.90"/>
<circle cx="249.03" cy="227.89" r="1.20" fill="#666" stroke="#111" stroke-width="0.90"/>
<text x="249.03" y="220.60" font-size="6.85" font-weight="bold" text-anchor="middle" fill="#111" stroke="#111" stroke-width="0.14">3205</text>
<line x1="249.03" y1="292.00" x2="249.03" y2="296.00" stroke="#1a1a1a" stroke-width="1.00"/>
<text x="251.43" y="303.20" font-size="6.60" font-weight="bold" text-anchor="end" fill="#111" transform="rotate(-45.00 251.43 303.20)" stroke="#111" stroke-width="0.14">Δ<tspan font-style="italic">rsmZ</tspan>Δ<tspan font-style="italic">rsmY</tspan></text>
<rect x="261.60" y="221.61" width="13.40" height="70.39" fill="#98c6f8" stroke="#111" stroke-width="1.10" rx="0.00"/>
<line x1="268.30" y1="221.68" x2="268.30" y2="220.43" stroke="#111" stroke-width="1.10"/>
<line x1="264.30" y1="221.68" x2="272.30" y2="221.68" stroke="#111" stroke-width="1.10"/>
<line x1="264.30" y1="220.43" x2="272.30" y2="220.43" stroke="#111" stroke-width="1.10"/>
<circle cx="265.80" cy="222.56" r="1.20" fill="#666" stroke="#111" stroke-width="0.90"/>
<circle cx="270.50" cy="220.06" r="1.20" fill="#666" stroke="#111" stroke-width="0.90"/>
<circle cx="268.30" cy="224.06" r="1.20" fill="#666" stroke="#111" stroke-width="0.90"/>
<text x="268.30" y="217.20" font-size="6.85" font-weight="bold" text-anchor="middle" fill="#111" stroke="#111" stroke-width="0.14">3388</text>
<line x1="268.30" y1="292.00" x2="268.30" y2="296.00" stroke="#1a1a1a" stroke-width="1.00"/>
<text x="270.70" y="303.20" font-size="6.60" font-weight="bold" text-anchor="end" fill="#111" transform="rotate(-45.00 270.70 303.20)" stroke="#111" stroke-width="0.14">Δ<tspan font-style="italic">dspII</tspan>Δ<tspan font-style="italic">rsmZ</tspan>Δ<tspan font-style="italic">rsmY</tspan></text>
<rect x="280.87" y="224.14" width="13.40" height="67.86" fill="#98c6f8" stroke="#111" stroke-width="1.10" rx="0.00"/>
<line x1="287.57" y1="226.10" x2="287.57" y2="221.08" stroke="#111" stroke-width="1.10"/>
<line x1="283.57" y1="226.10" x2="291.57" y2="226.10" stroke="#111" stroke-width="1.10"/>
<line x1="283.57" y1="221.08" x2="291.57" y2="221.08" stroke="#111" stroke-width="1.10"/>
<circle cx="285.07" cy="225.09" r="1.20" fill="#666" stroke="#111" stroke-width="0.90"/>
<circle cx="289.77" cy="222.59" r="1.20" fill="#666" stroke="#111" stroke-width="0.90"/>
<circle cx="287.57" cy="226.59" r="1.20" fill="#666" stroke="#111" stroke-width="0.90"/>
<text x="287.57" y="217.70" font-size="6.85" font-weight="bold" text-anchor="middle" fill="#111" stroke="#111" stroke-width="0.14">3267</text>
<line x1="287.57" y1="292.00" x2="287.57" y2="296.00" stroke="#1a1a1a" stroke-width="1.00"/>
<text x="289.97" y="303.20" font-size="6.60" font-weight="bold" text-anchor="end" fill="#111" transform="rotate(-45.00 289.97 303.20)" stroke="#111" stroke-width="0.14">Δ<tspan font-style="italic">dspI</tspan>Δ<tspan font-style="italic">rsmZ</tspan>Δ<tspan font-style="italic">rsmY</tspan></text>
<line x1="76.60" y1="192.20" x2="113.90" y2="192.20" stroke="#111" stroke-width="1.00"/>
<text x="95.25" y="189.30" font-size="6.80" font-weight="bold" text-anchor="middle" fill="#111" stroke="#111" stroke-width="0.14"><tspan font-style="italic">p</tspan>&lt;0.0001</text>
<line x1="134.50" y1="192.20" x2="170.70" y2="192.20" stroke="#111" stroke-width="1.00"/>
<text x="152.60" y="189.30" font-size="6.80" font-weight="bold" text-anchor="middle" fill="#111" stroke="#111" stroke-width="0.14"><tspan font-style="italic">p</tspan>=0.0003</text>
<line x1="192.30" y1="192.20" x2="228.50" y2="192.20" stroke="#111" stroke-width="1.00"/>
<text x="210.40" y="189.30" font-size="6.80" font-weight="bold" text-anchor="middle" fill="#111" stroke="#111" stroke-width="0.14"><tspan font-style="italic">p</tspan>=0.0005</text>
<line x1="250.00" y1="192.20" x2="286.80" y2="192.20" stroke="#111" stroke-width="1.00"/>
<text x="268.40" y="189.30" font-size="6.80" font-weight="bold" text-anchor="middle" fill="#111" stroke="#111" stroke-width="0.14"><tspan font-style="italic">p</tspan>=0.7868</text>
<line x1="76.60" y1="207.70" x2="94.60" y2="207.70" stroke="#111" stroke-width="1.00"/>
<text x="85.60" y="204.90" font-size="6.80" font-weight="bold" text-anchor="middle" fill="#111" stroke="#111" stroke-width="0.14"><tspan font-style="italic">p</tspan>=0.0002</text>
<line x1="134.50" y1="207.70" x2="151.50" y2="207.70" stroke="#111" stroke-width="1.00"/>
<text x="143.00" y="204.90" font-size="6.80" font-weight="bold" text-anchor="middle" fill="#111" stroke="#111" stroke-width="0.14"><tspan font-style="italic">p</tspan>=0.0115</text>
<line x1="192.30" y1="207.70" x2="209.30" y2="207.70" stroke="#111" stroke-width="1.00"/>
<text x="200.80" y="204.90" font-size="6.80" font-weight="bold" text-anchor="middle" fill="#111" stroke="#111" stroke-width="0.14"><tspan font-style="italic">p</tspan>=0.0123</text>
<line x1="250.00" y1="207.70" x2="267.70" y2="207.70" stroke="#111" stroke-width="1.00"/>
<text x="258.85" y="204.90" font-size="6.80" font-weight="bold" text-anchor="middle" fill="#111" stroke="#111" stroke-width="0.14"><tspan font-style="italic">p</tspan>=0.2177</text>
<text x="26.80" y="238.30" font-size="7.90" font-weight="bold" text-anchor="middle" fill="#111" transform="rotate(-90.00 26.80 238.30)" stroke="#111" stroke-width="0.14">β-gal activity (Miller Units)</text>
<text x="34.90" y="240.40" font-size="8.25" font-weight="bold" text-anchor="middle" fill="#111" transform="rotate(-90.00 34.90 240.40)" stroke="#111" stroke-width="0.14">(P<tspan font-style="italic">exsCEBA-lacZ</tspan>)</text>
<text x="332.00" y="245.20" font-size="7.00" font-weight="bold" text-anchor="start" fill="#111" stroke="#111" stroke-width="0.14">kDa</text>
<text x="362.30" y="245.60" font-size="7.00" font-weight="bold" text-anchor="middle" fill="#111" stroke="#111" stroke-width="0.14">M</text>
<text x="383.00" y="245.60" font-size="7.00" font-weight="bold" text-anchor="middle" fill="#111" stroke="#111" stroke-width="0.14">WT</text>
<text x="402.40" y="245.80" font-size="7.30" font-weight="bold" text-anchor="start" fill="#111" transform="rotate(-30.00 402.40 245.80)" stroke="#111" stroke-width="0.14">Δ<tspan font-style="italic">dspII</tspan></text>
<text x="424.50" y="245.80" font-size="7.30" font-weight="bold" text-anchor="start" fill="#111" transform="rotate(-30.00 424.50 245.80)" stroke="#111" stroke-width="0.14">Δ<tspan font-style="italic">dspI</tspan></text>
<text x="446.60" y="245.80" font-size="7.30" font-weight="bold" text-anchor="start" fill="#111" transform="rotate(-30.00 446.60 245.80)" stroke="#111" stroke-width="0.14">Δ<tspan font-style="italic">rsmZ</tspan></text>
<text x="468.70" y="245.80" font-size="7.30" font-weight="bold" text-anchor="start" fill="#111" transform="rotate(-30.00 468.70 245.80)" stroke="#111" stroke-width="0.14">Δ<tspan font-style="italic">dspII</tspan>Δ<tspan font-style="italic">rsmZ</tspan></text>
<text x="490.80" y="245.80" font-size="7.30" font-weight="bold" text-anchor="start" fill="#111" transform="rotate(-30.00 490.80 245.80)" stroke="#111" stroke-width="0.14">Δ<tspan font-style="italic">dspI</tspan>Δ<tspan font-style="italic">rsmZ</tspan></text>
<text x="512.90" y="245.80" font-size="7.30" font-weight="bold" text-anchor="start" fill="#111" transform="rotate(-30.00 512.90 245.80)" stroke="#111" stroke-width="0.14">Δ<tspan font-style="italic">rsmY</tspan></text>
<text x="535.00" y="245.80" font-size="7.30" font-weight="bold" text-anchor="start" fill="#111" transform="rotate(-30.00 535.00 245.80)" stroke="#111" stroke-width="0.14">Δ<tspan font-style="italic">dspII</tspan>Δ<tspan font-style="italic">rsmY</tspan></text>
<text x="557.10" y="245.80" font-size="7.30" font-weight="bold" text-anchor="start" fill="#111" transform="rotate(-30.00 557.10 245.80)" stroke="#111" stroke-width="0.14">Δ<tspan font-style="italic">dspI</tspan>Δ<tspan font-style="italic">rsmY</tspan></text>
<text x="579.20" y="245.80" font-size="7.30" font-weight="bold" text-anchor="start" fill="#111" transform="rotate(-30.00 579.20 245.80)" stroke="#111" stroke-width="0.14">Δ<tspan font-style="italic">rsmZ</tspan>Δ<tspan font-style="italic">rsmY</tspan></text>
<text x="601.30" y="245.80" font-size="7.30" font-weight="bold" text-anchor="start" fill="#111" transform="rotate(-30.00 601.30 245.80)" stroke="#111" stroke-width="0.14">Δ<tspan font-style="italic">dspII</tspan>Δ<tspan font-style="italic">rsmZ</tspan>Δ<tspan font-style="italic">rsmY</tspan></text>
<text x="623.40" y="245.80" font-size="7.30" font-weight="bold" text-anchor="start" fill="#111" transform="rotate(-30.00 623.40 245.80)" stroke="#111" stroke-width="0.14">Δ<tspan font-style="italic">dspI</tspan>Δ<tspan font-style="italic">rsmZ</tspan>Δ<tspan font-style="italic">rsmY</tspan></text>
<rect x="348.30" y="250.60" width="289.30" height="22.60" fill="#ececec" stroke="#2a2a2a" stroke-width="1.10" rx="0.00"/>
<rect x="348.30" y="276.00" width="289.50" height="22.90" fill="#ececec" stroke="#2a2a2a" stroke-width="1.10" rx="0.00"/>
<text x="339.70" y="262.60" font-size="7.00" font-weight="bold" text-anchor="middle" fill="#111" stroke="#111" stroke-width="0.14">35</text>
<text x="338.40" y="291.60" font-size="7.00" font-weight="bold" text-anchor="middle" fill="#111" stroke="#111" stroke-width="0.14">180</text>
<text x="640.80" y="265.30" font-size="7.00" font-weight="bold" text-anchor="start" fill="#111" stroke="#111" stroke-width="0.14">ExsA</text>
<text x="640.80" y="291.30" font-size="7.00" font-weight="bold" text-anchor="start" fill="#111" stroke="#111" stroke-width="0.14">β-RNAP</text>
<rect x="353.40" y="257.40" width="15.00" height="3.60" rx="1.80" fill="#7c7c7c" filter="url(#bl2)"/>
<rect x="354.00" y="287.50" width="13.00" height="2.60" rx="1.30" fill="#c2c2c2" filter="url(#bl2)"/>
<rect x="373.10" y="265.20" width="18.10" height="3.20" rx="1.60" fill="#1e1e1e" filter="url(#bl)"/>
<rect x="395.00" y="265.30" width="18.60" height="2.80" rx="1.40" fill="#3e3e3e" filter="url(#bl)"/>
<rect x="418.40" y="265.30" width="16.80" height="2.80" rx="1.40" fill="#404040" filter="url(#bl)"/>
<rect x="439.20" y="264.30" width="18.60" height="3.40" rx="1.70" fill="#1a1a1a" filter="url(#bl)"/>
<rect x="462.10" y="263.80" width="17.60" height="2.80" rx="1.40" fill="#3a3a3a" filter="url(#bl)"/>
<rect x="483.40" y="263.10" width="17.60" height="3.00" rx="1.50" fill="#2e2e2e" filter="url(#bl)"/>
<rect x="505.00" y="263.30" width="18.00" height="3.40" rx="1.70" fill="#1a1a1a" filter="url(#bl)"/>
<rect x="527.50" y="263.50" width="18.00" height="3.00" rx="1.50" fill="#333" filter="url(#bl)"/>
<rect x="549.30" y="263.60" width="20.00" height="2.60" rx="1.30" fill="#505050" filter="url(#bl)"/>
<rect x="570.60" y="260.30" width="22.00" height="5.00" rx="2.50" fill="#080808" filter="url(#bl)"/>
<rect x="590.60" y="257.40" width="24.00" height="5.00" rx="2.50" fill="#080808" filter="url(#bl)"/>
<rect x="613.60" y="255.60" width="21.00" height="4.80" rx="2.40" fill="#0c0c0c" filter="url(#bl)"/>
<rect x="376.00" y="285.80" width="12.20" height="3.80" fill="#d4d4d4" filter="url(#bl2)"/>
<path d="M374.60 284.80 L374.60 292.40 Q374.60 294.00 376.20 294.00 L388.00 294.00 Q389.60 294.00 389.60 292.40 L389.60 284.80 L388.20 285.60 L388.20 288.60 L376.00 288.60 L376.00 285.60 Z" fill="url(#ug)" filter="url(#bl)"/>
<rect x="397.60" y="285.60" width="13.60" height="3.80" fill="#d4d4d4" filter="url(#bl2)"/>
<path d="M396.20 284.60 L396.20 292.20 Q396.20 293.80 397.80 293.80 L411.00 293.80 Q412.60 293.80 412.60 292.20 L412.60 284.60 L411.20 285.40 L411.20 288.40 L397.60 288.40 L397.60 285.40 Z" fill="url(#ug)" filter="url(#bl)"/>
<rect x="420.60" y="287.80" width="13.60" height="1.80" fill="#d4d4d4" filter="url(#bl2)"/>
<path d="M419.20 286.80 L419.20 291.00 Q419.20 292.60 420.80 292.60 L434.00 292.60 Q435.60 292.60 435.60 291.00 L435.60 286.80 L434.20 287.60 L434.20 288.60 L420.60 288.60 L420.60 287.60 Z" fill="url(#ug)" filter="url(#bl)"/>
<rect x="442.50" y="284.60" width="11.80" height="4.20" fill="#d4d4d4" filter="url(#bl2)"/>
<path d="M441.10 283.60 L441.10 290.00 Q441.10 291.60 442.70 291.60 L454.10 291.60 Q455.70 291.60 455.70 290.00 L455.70 283.60 L454.30 284.40 L454.30 287.80 L442.50 287.80 L442.50 284.40 Z" fill="url(#ug)" filter="url(#bl)"/>
<rect x="464.80" y="282.40" width="13.30" height="4.40" fill="#d4d4d4" filter="url(#bl2)"/>
<path d="M463.40 281.40 L463.40 288.00 Q463.40 289.60 465.00 289.60 L477.90 289.60 Q479.50 289.60 479.50 288.00 L479.50 281.40 L478.10 282.20 L478.10 285.80 L464.80 285.80 L464.80 282.20 Z" fill="url(#ug)" filter="url(#bl)"/>
<rect x="487.80" y="280.80" width="11.80" height="5.20" fill="#d4d4d4" filter="url(#bl2)"/>
<path d="M486.40 279.80 L486.40 287.00 Q486.40 288.60 488.00 288.60 L499.40 288.60 Q501.00 288.60 501.00 287.00 L501.00 279.80 L499.60 280.60 L499.60 285.00 L487.80 285.00 L487.80 280.60 Z" fill="url(#ug)" filter="url(#bl)"/>
<rect x="509.30" y="283.00" width="14.00" height="3.80" fill="#d4d4d4" filter="url(#bl2)"/>
<path d="M507.90 282.00 L507.90 288.00 Q507.90 289.60 509.50 289.60 L523.10 289.60 Q524.70 289.60 524.70 288.00 L524.70 282.00 L523.30 282.80 L523.30 285.80 L509.30 285.80 L509.30 282.80 Z" fill="url(#ug)" filter="url(#bl)"/>
<rect x="533.00" y="281.50" width="12.50" height="4.10" fill="#d4d4d4" filter="url(#bl2)"/>
<path d="M531.60 280.50 L531.60 287.70 Q531.60 289.30 533.20 289.30 L545.30 289.30 Q546.90 289.30 546.90 287.70 L546.90 280.50 L545.50 281.30 L545.50 284.60 L533.00 284.60 L533.00 281.30 Z" fill="url(#ug)" filter="url(#bl)"/>
<rect x="553.90" y="282.50" width="14.00" height="3.10" fill="#d4d4d4" filter="url(#bl2)"/>
<path d="M552.50 281.50 L552.50 287.40 Q552.50 289.00 554.10 289.00 L567.70 289.00 Q569.30 289.00 569.30 287.40 L569.30 281.50 L567.90 282.30 L567.90 284.60 L553.90 284.60 L553.90 282.30 Z" fill="url(#ug)" filter="url(#bl)"/>
<rect x="577.10" y="282.30" width="12.50" height="4.80" fill="#d4d4d4" filter="url(#bl2)"/>
<path d="M575.70 281.30 L575.70 288.60 Q575.70 290.20 577.30 290.20 L589.40 290.20 Q591.00 290.20 591.00 288.60 L591.00 281.30 L589.60 282.10 L589.60 286.10 L577.10 286.10 L577.10 282.10 Z" fill="url(#ug)" filter="url(#bl)"/>
<rect x="598.80" y="280.70" width="13.30" height="7.20" fill="#d4d4d4" filter="url(#bl2)"/>
<path d="M597.40 279.70 L597.40 289.40 Q597.40 291.00 599.00 291.00 L611.90 291.00 Q613.50 291.00 613.50 289.40 L613.50 279.70 L612.10 280.50 L612.10 286.90 L598.80 286.90 L598.80 280.50 Z" fill="url(#ug)" filter="url(#bl)"/>
<rect x="622.10" y="284.50" width="11.60" height="2.60" fill="#d4d4d4" filter="url(#bl2)"/>
<path d="M620.70 283.50 L620.70 287.90 Q620.70 289.50 622.30 289.50 L633.50 289.50 Q635.10 289.50 635.10 287.90 L635.10 276.50 L633.70 277.30 L633.70 286.10 L622.10 286.10 L622.10 284.30 Z" fill="url(#ug)" filter="url(#bl)"/>
<line x1="65.50" y1="375.45" x2="65.50" y2="480.10" stroke="#1a1a1a" stroke-width="1.00"/>
<line x1="61.50" y1="480.10" x2="65.50" y2="480.10" stroke="#1a1a1a" stroke-width="1.00"/>
<text x="60.30" y="482.58" font-size="6.90" font-weight="bold" text-anchor="end" fill="#111" stroke="#111" stroke-width="0.14">0</text>
<line x1="61.50" y1="465.15" x2="65.50" y2="465.15" stroke="#1a1a1a" stroke-width="1.00"/>
<text x="60.30" y="467.63" font-size="6.90" font-weight="bold" text-anchor="end" fill="#111" stroke="#111" stroke-width="0.14">500</text>
<line x1="61.50" y1="450.20" x2="65.50" y2="450.20" stroke="#1a1a1a" stroke-width="1.00"/>
<text x="60.30" y="452.68" font-size="6.90" font-weight="bold" text-anchor="end" fill="#111" stroke="#111" stroke-width="0.14">1000</text>
<line x1="61.50" y1="435.25" x2="65.50" y2="435.25" stroke="#1a1a1a" stroke-width="1.00"/>
<text x="60.30" y="437.73" font-size="6.90" font-weight="bold" text-anchor="end" fill="#111" stroke="#111" stroke-width="0.14">1500</text>
<line x1="61.50" y1="420.30" x2="65.50" y2="420.30" stroke="#1a1a1a" stroke-width="1.00"/>
<text x="60.30" y="422.78" font-size="6.90" font-weight="bold" text-anchor="end" fill="#111" stroke="#111" stroke-width="0.14">2000</text>
<line x1="61.50" y1="405.35" x2="65.50" y2="405.35" stroke="#1a1a1a" stroke-width="1.00"/>
<text x="60.30" y="407.83" font-size="6.90" font-weight="bold" text-anchor="end" fill="#111" stroke="#111" stroke-width="0.14">2500</text>
<line x1="61.50" y1="390.40" x2="65.50" y2="390.40" stroke="#1a1a1a" stroke-width="1.00"/>
<text x="60.30" y="392.88" font-size="6.90" font-weight="bold" text-anchor="end" fill="#111" stroke="#111" stroke-width="0.14">3000</text>
<line x1="61.50" y1="375.45" x2="65.50" y2="375.45" stroke="#1a1a1a" stroke-width="1.00"/>
<text x="60.30" y="377.93" font-size="6.90" font-weight="bold" text-anchor="end" fill="#111" stroke="#111" stroke-width="0.14">3500</text>
<line x1="65.50" y1="480.10" x2="174.30" y2="480.10" stroke="#1a1a1a" stroke-width="1.00"/>
<rect x="70.55" y="414.90" width="14.70" height="65.20" fill="#98c6f8" stroke="#111" stroke-width="1.10" rx="0.00"/>
<line x1="77.90" y1="418.24" x2="77.90" y2="410.46" stroke="#111" stroke-width="1.10"/>
<line x1="73.60" y1="418.24" x2="82.20" y2="418.24" stroke="#111" stroke-width="1.10"/>
<line x1="73.60" y1="410.46" x2="82.20" y2="410.46" stroke="#111" stroke-width="1.10"/>
<circle cx="79.50" cy="408.50" r="1.30" fill="#666" stroke="#111" stroke-width="0.90"/>
<circle cx="78.00" cy="419.00" r="1.30" fill="#666" stroke="#111" stroke-width="0.90"/>
<circle cx="77.00" cy="416.00" r="1.30" fill="#666" stroke="#111" stroke-width="0.90"/>
<text x="77.90" y="407.70" font-size="6.90" font-weight="bold" text-anchor="middle" fill="#111" stroke="#111" stroke-width="0.14">2199</text>
<line x1="77.90" y1="480.10" x2="77.90" y2="484.10" stroke="#1a1a1a" stroke-width="1.00"/>
<text x="80.50" y="491.90" font-size="7.00" font-weight="bold" text-anchor="end" fill="#111" transform="rotate(-45.00 80.50 491.90)" stroke="#111" stroke-width="0.14">WT(EV)</text>
<rect x="91.42" y="439.63" width="14.70" height="40.47" fill="#98c6f8" stroke="#111" stroke-width="1.10" rx="0.00"/>
<line x1="98.77" y1="439.53" x2="98.77" y2="438.63" stroke="#111" stroke-width="1.10"/>
<line x1="94.47" y1="439.53" x2="103.07" y2="439.53" stroke="#111" stroke-width="1.10"/>
<line x1="94.47" y1="438.63" x2="103.07" y2="438.63" stroke="#111" stroke-width="1.10"/>
<circle cx="95.50" cy="439.20" r="1.30" fill="#666" stroke="#111" stroke-width="0.90"/>
<circle cx="98.80" cy="439.20" r="1.30" fill="#666" stroke="#111" stroke-width="0.90"/>
<circle cx="102.00" cy="439.20" r="1.30" fill="#666" stroke="#111" stroke-width="0.90"/>
<text x="98.77" y="435.60" font-size="6.90" font-weight="bold" text-anchor="middle" fill="#111" stroke="#111" stroke-width="0.14">1372</text>
<line x1="98.77" y1="480.10" x2="98.77" y2="484.10" stroke="#1a1a1a" stroke-width="1.00"/>
<text x="101.37" y="491.90" font-size="7.00" font-weight="bold" text-anchor="end" fill="#111" transform="rotate(-45.00 101.37 491.90)" stroke="#111" stroke-width="0.14">Δ<tspan font-style="italic">dspII</tspan>(EV)</text>
<rect x="112.29" y="439.81" width="14.70" height="40.29" fill="#98c6f8" stroke="#111" stroke-width="1.10" rx="0.00"/>
<line x1="119.64" y1="440.75" x2="119.64" y2="437.76" stroke="#111" stroke-width="1.10"/>
<line x1="115.34" y1="440.75" x2="123.94" y2="440.75" stroke="#111" stroke-width="1.10"/>
<line x1="115.34" y1="437.76" x2="123.94" y2="437.76" stroke="#111" stroke-width="1.10"/>
<circle cx="117.50" cy="441.00" r="1.30" fill="#666" stroke="#111" stroke-width="0.90"/>
<circle cx="120.50" cy="438.50" r="1.30" fill="#666" stroke="#111" stroke-width="0.90"/>
<circle cx="122.50" cy="436.80" r="1.30" fill="#666" stroke="#111" stroke-width="0.90"/>
<text x="119.64" y="434.70" font-size="6.90" font-weight="bold" text-anchor="middle" fill="#111" stroke="#111" stroke-width="0.14">1366</text>
<line x1="119.64" y1="480.10" x2="119.64" y2="484.10" stroke="#1a1a1a" stroke-width="1.00"/>
<text x="122.24" y="491.90" font-size="7.00" font-weight="bold" text-anchor="end" fill="#111" transform="rotate(-45.00 122.24 491.90)" stroke="#111" stroke-width="0.14">Δ<tspan font-style="italic">dspI</tspan>(EV)</text>
<rect x="133.16" y="415.14" width="14.70" height="64.96" fill="#98c6f8" stroke="#111" stroke-width="1.10" rx="0.00"/>
<line x1="140.51" y1="416.68" x2="140.51" y2="412.50" stroke="#111" stroke-width="1.10"/>
<line x1="136.21" y1="416.68" x2="144.81" y2="416.68" stroke="#111" stroke-width="1.10"/>
<line x1="136.21" y1="412.50" x2="144.81" y2="412.50" stroke="#111" stroke-width="1.10"/>
<circle cx="138.00" cy="416.00" r="1.30" fill="#666" stroke="#111" stroke-width="0.90"/>
<circle cx="141.50" cy="413.00" r="1.30" fill="#666" stroke="#111" stroke-width="0.90"/>
<circle cx="139.50" cy="419.00" r="1.30" fill="#666" stroke="#111" stroke-width="0.90"/>
<text x="140.51" y="409.70" font-size="6.90" font-weight="bold" text-anchor="middle" fill="#111" stroke="#111" stroke-width="0.14">2191</text>
<line x1="140.51" y1="480.10" x2="140.51" y2="484.10" stroke="#1a1a1a" stroke-width="1.00"/>
<text x="143.11" y="491.90" font-size="7.00" font-weight="bold" text-anchor="end" fill="#111" transform="rotate(-45.00 143.11 491.90)" stroke="#111" stroke-width="0.14">Δ<tspan font-style="italic">dspII</tspan>(<tspan font-style="italic">rsmA</tspan>)</text>
<rect x="154.03" y="418.91" width="14.70" height="61.19" fill="#98c6f8" stroke="#111" stroke-width="1.10" rx="0.00"/>
<line x1="161.38" y1="421.35" x2="161.38" y2="415.37" stroke="#111" stroke-width="1.10"/>
<line x1="157.08" y1="421.35" x2="165.68" y2="421.35" stroke="#111" stroke-width="1.10"/>
<line x1="157.08" y1="415.37" x2="165.68" y2="415.37" stroke="#111" stroke-width="1.10"/>
<circle cx="157.50" cy="421.00" r="1.30" fill="#666" stroke="#111" stroke-width="0.90"/>
<circle cx="161.40" cy="412.50" r="1.30" fill="#666" stroke="#111" stroke-width="0.90"/>
<circle cx="165.50" cy="421.00" r="1.30" fill="#666" stroke="#111" stroke-width="0.90"/>
<text x="161.38" y="412.10" font-size="6.90" font-weight="bold" text-anchor="middle" fill="#111" stroke="#111" stroke-width="0.14">2065</text>
<line x1="161.38" y1="480.10" x2="161.38" y2="484.10" stroke="#1a1a1a" stroke-width="1.00"/>
<text x="163.98" y="491.90" font-size="7.00" font-weight="bold" text-anchor="end" fill="#111" transform="rotate(-45.00 163.98 491.90)" stroke="#111" stroke-width="0.14">Δ<tspan font-style="italic">dspI</tspan>(<tspan font-style="italic">rsmA</tspan>)</text>
<line x1="77.20" y1="378.10" x2="119.30" y2="378.10" stroke="#111" stroke-width="1.00"/>
<text x="97.60" y="375.20" font-size="7.00" font-weight="bold" text-anchor="middle" fill="#111" stroke="#111" stroke-width="0.14"><tspan font-style="italic">p</tspan>&lt;0.0001</text>
<line x1="121.50" y1="378.10" x2="163.40" y2="378.10" stroke="#111" stroke-width="1.00"/>
<text x="143.20" y="375.20" font-size="7.00" font-weight="bold" text-anchor="middle" fill="#111" stroke="#111" stroke-width="0.14"><tspan font-style="italic">p</tspan>=0.0004</text>
<line x1="77.20" y1="394.20" x2="97.60" y2="394.20" stroke="#111" stroke-width="1.00"/>
<text x="87.10" y="391.30" font-size="7.00" font-weight="bold" text-anchor="middle" fill="#111" stroke="#111" stroke-width="0.14"><tspan font-style="italic">p</tspan>&lt;0.0001</text>
<line x1="100.10" y1="394.20" x2="141.70" y2="394.20" stroke="#111" stroke-width="1.00"/>
<text x="122.40" y="391.30" font-size="7.00" font-weight="bold" text-anchor="middle" fill="#111" stroke="#111" stroke-width="0.14"><tspan font-style="italic">p</tspan>&lt;0.0001</text>
<text x="28.60" y="427.00" font-size="8.00" font-weight="bold" text-anchor="middle" fill="#111" transform="rotate(-90.00 28.60 427.00)" stroke="#111" stroke-width="0.14">β-gal activity (Miller Units)</text>
<text x="37.60" y="428.60" font-size="8.20" font-weight="bold" text-anchor="middle" fill="#111" transform="rotate(-90.00 37.60 428.60)" stroke="#111" stroke-width="0.14">(P<tspan font-style="italic">exsCEBA-lacZ</tspan>)</text>
<text x="26.30" y="579.60" font-size="7.00" font-weight="bold" text-anchor="start" fill="#111" stroke="#111" stroke-width="0.14">kDa</text>
<text x="51.50" y="579.80" font-size="7.00" font-weight="bold" text-anchor="middle" fill="#111" stroke="#111" stroke-width="0.14">M</text>
<text x="75.20" y="570.60" font-size="7.20" font-weight="bold" text-anchor="middle" fill="#111" stroke="#111" stroke-width="0.14">WT</text>
<text x="75.20" y="579.40" font-size="7.20" font-weight="bold" text-anchor="middle" fill="#111" stroke="#111" stroke-width="0.14">(EV)</text>
<text x="98.10" y="570.60" font-size="7.20" font-weight="bold" text-anchor="middle" fill="#111" stroke="#111" stroke-width="0.14">Δ<tspan font-style="italic">dspII</tspan></text>
<text x="98.10" y="579.40" font-size="7.20" font-weight="bold" text-anchor="middle" fill="#111" stroke="#111" stroke-width="0.14">(EV)</text>
<text x="121.20" y="570.60" font-size="7.20" font-weight="bold" text-anchor="middle" fill="#111" stroke="#111" stroke-width="0.14">Δ<tspan font-style="italic">dspI</tspan></text>
<text x="121.20" y="579.40" font-size="7.20" font-weight="bold" text-anchor="middle" fill="#111" stroke="#111" stroke-width="0.14">(EV)</text>
<text x="146.40" y="570.60" font-size="7.20" font-weight="bold" text-anchor="middle" fill="#111" stroke="#111" stroke-width="0.14">Δ<tspan font-style="italic">dspII</tspan></text>
<text x="146.40" y="579.40" font-size="7.20" font-weight="bold" text-anchor="middle" fill="#111" stroke="#111" stroke-width="0.14">(<tspan font-style="italic">rsmA</tspan>)</text>
<text x="172.10" y="570.60" font-size="7.20" font-weight="bold" text-anchor="middle" fill="#111" stroke="#111" stroke-width="0.14">Δ<tspan font-style="italic">dspI</tspan></text>
<text x="172.10" y="579.40" font-size="7.20" font-weight="bold" text-anchor="middle" fill="#111" stroke="#111" stroke-width="0.14">(<tspan font-style="italic">rsmA</tspan>)</text>
<rect x="39.40" y="583.40" width="143.30" height="23.90" fill="#ececec" stroke="#2a2a2a" stroke-width="1.10" rx="0.00"/>
<rect x="39.40" y="611.40" width="143.30" height="22.60" fill="#ececec" stroke="#2a2a2a" stroke-width="1.10" rx="0.00"/>
<text x="33.30" y="592.90" font-size="7.00" font-weight="bold" text-anchor="middle" fill="#111" stroke="#111" stroke-width="0.14">35</text>
<text x="31.20" y="621.30" font-size="7.00" font-weight="bold" text-anchor="middle" fill="#111" stroke="#111" stroke-width="0.14">180</text>
<text x="185.70" y="603.10" font-size="7.00" font-weight="bold" text-anchor="start" fill="#111" stroke="#111" stroke-width="0.14">ExsA</text>
<text x="185.70" y="625.60" font-size="7.00" font-weight="bold" text-anchor="start" fill="#111" stroke="#111" stroke-width="0.14">β-RNAP</text>
<rect x="41.00" y="584.00" width="20.00" height="22.80" fill="#f3f3f3" stroke="none" stroke-width="1.00" rx="0.00" filter="url(#bl2)"/>
<rect x="41.00" y="612.00" width="20.00" height="21.50" fill="#f3f3f3" stroke="none" stroke-width="1.00" rx="0.00" filter="url(#bl2)"/>
<rect x="43.30" y="587.10" width="15.00" height="3.80" rx="1.90" fill="#8a8a8a" filter="url(#bl3)"/>
<rect x="44.00" y="618.10" width="12.00" height="2.40" rx="1.20" fill="#cdcdcd" filter="url(#bl3)"/>
<rect x="63.60" y="594.70" width="19.20" height="4.60" rx="2.30" fill="#141414" filter="url(#bl3)"/>
<rect x="87.00" y="595.40" width="18.20" height="4.20" rx="2.10" fill="#707070" filter="url(#bl3)"/>
<rect x="111.60" y="595.40" width="17.00" height="4.20" rx="2.10" fill="#7a7a7a" filter="url(#bl3)"/>
<rect x="134.00" y="593.70" width="20.80" height="6.60" rx="3.30" fill="#040404" filter="url(#bl3)"/>
<rect x="158.50" y="593.30" width="20.70" height="7.40" rx="3.70" fill="#030303" filter="url(#bl3)"/>
<rect x="64.90" y="620.50" width="13.30" height="0.30" fill="#d4d4d4" filter="url(#bl2)"/>
<path d="M62.50 617.80 L62.50 624.40 Q62.50 626.00 64.10 626.00 L79.00 626.00 Q80.60 626.00 80.60 624.40 L80.60 619.50 L78.20 620.30 L78.20 619.80 L64.90 619.80 L64.90 618.60 Z" fill="url(#ug)" filter="url(#bl3)"/>
<rect x="89.00" y="619.00" width="14.40" height="1.40" fill="#d4d4d4" filter="url(#bl2)"/>
<path d="M86.60 618.00 L86.60 624.40 Q86.60 626.00 88.20 626.00 L104.20 626.00 Q105.80 626.00 105.80 624.40 L105.80 618.00 L103.40 618.80 L103.40 619.40 L89.00 619.40 L89.00 618.80 Z" fill="url(#ug)" filter="url(#bl3)"/>
<rect x="114.00" y="619.40" width="10.70" height="1.20" fill="#d4d4d4" filter="url(#bl2)"/>
<path d="M111.60 618.40 L111.60 624.00 Q111.60 625.60 113.20 625.60 L125.50 625.60 Q127.10 625.60 127.10 624.00 L127.10 618.40 L124.70 619.20 L124.70 619.60 L114.00 619.60 L114.00 619.20 Z" fill="url(#ug)" filter="url(#bl3)"/>
<rect x="137.40" y="619.00" width="13.30" height="1.60" fill="#d4d4d4" filter="url(#bl2)"/>
<path d="M135.00 618.00 L135.00 624.00 Q135.00 625.60 136.60 625.60 L151.50 625.60 Q153.10 625.60 153.10 624.00 L153.10 618.00 L150.70 618.80 L150.70 619.60 L137.40 619.60 L137.40 618.80 Z" fill="url(#ug)" filter="url(#bl3)"/>
<rect x="161.50" y="619.60" width="13.80" height="1.20" fill="#d4d4d4" filter="url(#bl2)"/>
<path d="M159.10 618.60 L159.10 624.80 Q159.10 626.40 160.70 626.40 L176.10 626.40 Q177.70 626.40 177.70 624.80 L177.70 615.80 L175.30 616.60 L175.30 619.80 L161.50 619.80 L161.50 619.40 Z" fill="url(#ug)" filter="url(#bl3)"/>
<line x1="293.30" y1="373.10" x2="293.30" y2="443.20" stroke="#1a1a1a" stroke-width="1.00"/>
<line x1="293.30" y1="450.00" x2="293.30" y2="480.00" stroke="#1a1a1a" stroke-width="1.00"/>
<line x1="289.80" y1="443.20" x2="296.80" y2="443.20" stroke="#1a1a1a" stroke-width="1.00"/>
<line x1="289.80" y1="450.00" x2="296.80" y2="450.00" stroke="#1a1a1a" stroke-width="1.00"/>
<line x1="289.30" y1="373.10" x2="293.30" y2="373.10" stroke="#1a1a1a" stroke-width="1.00"/>
<text x="288.50" y="375.48" font-size="6.60" font-weight="bold" text-anchor="end" fill="#111" stroke="#111" stroke-width="0.14">1.5×10<tspan dy="-2.38" font-size="4.62">6</tspan><tspan dy="2.38"> </tspan></text>
<line x1="289.30" y1="400.10" x2="293.30" y2="400.10" stroke="#1a1a1a" stroke-width="1.00"/>
<text x="288.50" y="402.48" font-size="6.60" font-weight="bold" text-anchor="end" fill="#111" stroke="#111" stroke-width="0.14">1×10<tspan dy="-2.38" font-size="4.62">6</tspan><tspan dy="2.38"> </tspan></text>
<line x1="289.30" y1="427.10" x2="293.30" y2="427.10" stroke="#1a1a1a" stroke-width="1.00"/>
<text x="288.50" y="429.48" font-size="6.60" font-weight="bold" text-anchor="end" fill="#111" stroke="#111" stroke-width="0.14">5×10<tspan dy="-2.38" font-size="4.62">5</tspan><tspan dy="2.38"> </tspan></text>
<line x1="289.30" y1="450.40" x2="293.30" y2="450.40" stroke="#1a1a1a" stroke-width="1.00"/>
<text x="288.50" y="452.78" font-size="6.60" font-weight="bold" text-anchor="end" fill="#111" stroke="#111" stroke-width="0.14">1×10<tspan dy="-2.38" font-size="4.62">4</tspan><tspan dy="2.38"> </tspan></text>
<line x1="289.30" y1="465.20" x2="293.30" y2="465.20" stroke="#1a1a1a" stroke-width="1.00"/>
<text x="288.50" y="467.58" font-size="6.60" font-weight="bold" text-anchor="end" fill="#111" stroke="#111" stroke-width="0.14">5×10<tspan dy="-2.38" font-size="4.62">3</tspan><tspan dy="2.38"> </tspan></text>
<line x1="289.30" y1="480.00" x2="293.30" y2="480.00" stroke="#1a1a1a" stroke-width="1.00"/>
<text x="288.50" y="482.38" font-size="6.60" font-weight="bold" text-anchor="end" fill="#111" stroke="#111" stroke-width="0.14">0</text>
<line x1="293.30" y1="480.00" x2="423.45" y2="480.00" stroke="#1a1a1a" stroke-width="1.00"/>
<line x1="293.30" y1="480.00" x2="293.30" y2="484.00" stroke="#1a1a1a" stroke-width="1.00"/>
<text x="293.30" y="491.40" font-size="7.00" font-weight="bold" text-anchor="middle" fill="#111" stroke="#111" stroke-width="0.14">4</text>
<line x1="319.33" y1="480.00" x2="319.33" y2="484.00" stroke="#1a1a1a" stroke-width="1.00"/>
<text x="319.33" y="491.40" font-size="7.00" font-weight="bold" text-anchor="middle" fill="#111" stroke="#111" stroke-width="0.14">8</text>
<line x1="345.36" y1="480.00" x2="345.36" y2="484.00" stroke="#1a1a1a" stroke-width="1.00"/>
<text x="345.36" y="491.40" font-size="7.00" font-weight="bold" text-anchor="middle" fill="#111" stroke="#111" stroke-width="0.14">12</text>
<line x1="371.39" y1="480.00" x2="371.39" y2="484.00" stroke="#1a1a1a" stroke-width="1.00"/>
<text x="371.39" y="491.40" font-size="7.00" font-weight="bold" text-anchor="middle" fill="#111" stroke="#111" stroke-width="0.14">16</text>
<line x1="397.42" y1="480.00" x2="397.42" y2="484.00" stroke="#1a1a1a" stroke-width="1.00"/>
<text x="397.42" y="491.40" font-size="7.00" font-weight="bold" text-anchor="middle" fill="#111" stroke="#111" stroke-width="0.14">20</text>
<line x1="423.45" y1="480.00" x2="423.45" y2="484.00" stroke="#1a1a1a" stroke-width="1.00"/>
<text x="423.45" y="491.40" font-size="7.00" font-weight="bold" text-anchor="middle" fill="#111" stroke="#111" stroke-width="0.14">24</text>
<text x="357.90" y="502.80" font-size="8.30" font-weight="bold" text-anchor="middle" fill="#111" stroke="#111" stroke-width="0.14">Time (h)</text>
<polyline points="319.33,441.50 345.36,437.70 371.39,434.00 397.42,429.60 423.45,424.60" fill="none" stroke="#f0a03c" stroke-width="1.20"/>
<circle cx="319.33" cy="441.50" r="2.60" fill="#f0a03c" stroke="none" stroke-width="1.00"/>
<circle cx="345.36" cy="437.70" r="2.60" fill="#f0a03c" stroke="none" stroke-width="1.00"/>
<circle cx="371.39" cy="434.00" r="2.60" fill="#f0a03c" stroke="none" stroke-width="1.00"/>
<circle cx="397.42" cy="429.60" r="2.60" fill="#f0a03c" stroke="none" stroke-width="1.00"/>
<circle cx="423.45" cy="424.60" r="2.60" fill="#f0a03c" stroke="none" stroke-width="1.00"/>
<polyline points="319.33,440.40 345.36,431.60 371.39,425.70 397.42,415.80 423.45,414.00" fill="none" stroke="#5ca6f4" stroke-width="1.20"/>
<rect x="316.98" y="438.05" width="4.70" height="4.70" fill="#5ca6f4" stroke="none" stroke-width="1.00" rx="0.00"/>
<rect x="343.01" y="429.25" width="4.70" height="4.70" fill="#5ca6f4" stroke="none" stroke-width="1.00" rx="0.00"/>
<rect x="369.04" y="423.35" width="4.70" height="4.70" fill="#5ca6f4" stroke="none" stroke-width="1.00" rx="0.00"/>
<rect x="395.07" y="413.45" width="4.70" height="4.70" fill="#5ca6f4" stroke="none" stroke-width="1.00" rx="0.00"/>
<rect x="421.10" y="411.65" width="4.70" height="4.70" fill="#5ca6f4" stroke="none" stroke-width="1.00" rx="0.00"/>
<polyline points="319.33,441.50 345.36,430.70 371.39,425.00 397.42,413.20 423.45,411.50" fill="none" stroke="#b455ea" stroke-width="1.20"/>
<path d="M319.33 438.38 L322.33 443.58 L316.33 443.58 Z" fill="#b455ea" stroke="none" stroke-width="1.00"/>
<path d="M345.36 427.58 L348.36 432.78 L342.36 432.78 Z" fill="#b455ea" stroke="none" stroke-width="1.00"/>
<path d="M371.39 421.88 L374.39 427.08 L368.39 427.08 Z" fill="#b455ea" stroke="none" stroke-width="1.00"/>
<path d="M397.42 410.08 L400.42 415.28 L394.42 415.28 Z" fill="#b455ea" stroke="none" stroke-width="1.00"/>
<path d="M423.45 408.38 L426.45 413.58 L420.45 413.58 Z" fill="#b455ea" stroke="none" stroke-width="1.00"/>
<polyline points="319.33,473.20 345.36,470.60 371.39,468.40 397.42,462.50 423.45,461.20" fill="none" stroke="#f0a03c" stroke-width="1.20" stroke-dasharray="3.2,2.0"/>
<circle cx="319.33" cy="473.20" r="2.40" fill="none" stroke="#f0a03c" stroke-width="0.95"/>
<circle cx="345.36" cy="470.60" r="2.40" fill="none" stroke="#f0a03c" stroke-width="0.95"/>
<circle cx="371.39" cy="468.40" r="2.40" fill="none" stroke="#f0a03c" stroke-width="0.95"/>
<circle cx="397.42" cy="462.50" r="2.40" fill="none" stroke="#f0a03c" stroke-width="0.95"/>
<circle cx="423.45" cy="461.20" r="2.40" fill="none" stroke="#f0a03c" stroke-width="0.95"/>
<polyline points="319.33,471.20 345.36,470.60 371.39,468.80 397.42,460.30 423.45,460.30" fill="none" stroke="#5ca6f4" stroke-width="1.20" stroke-dasharray="3.2,2.0"/>
<rect x="317.13" y="469.00" width="4.40" height="4.40" fill="none" stroke="#5ca6f4" stroke-width="0.95" rx="0.00"/>
<rect x="343.16" y="468.40" width="4.40" height="4.40" fill="none" stroke="#5ca6f4" stroke-width="0.95" rx="0.00"/>
<rect x="369.19" y="466.60" width="4.40" height="4.40" fill="none" stroke="#5ca6f4" stroke-width="0.95" rx="0.00"/>
<rect x="395.22" y="458.10" width="4.40" height="4.40" fill="none" stroke="#5ca6f4" stroke-width="0.95" rx="0.00"/>
<rect x="421.25" y="458.10" width="4.40" height="4.40" fill="none" stroke="#5ca6f4" stroke-width="0.95" rx="0.00"/>
<polyline points="319.33,472.10 345.36,471.70 371.39,466.90 397.42,461.20 423.45,461.20" fill="none" stroke="#b455ea" stroke-width="1.20" stroke-dasharray="3.2,2.0"/>
<path d="M319.33 469.10 L322.23 474.10 L316.43 474.10 Z" fill="none" stroke="#b455ea" stroke-width="0.95"/>
<path d="M345.36 468.70 L348.26 473.70 L342.46 473.70 Z" fill="none" stroke="#b455ea" stroke-width="0.95"/>
<path d="M371.39 463.90 L374.29 468.90 L368.49 468.90 Z" fill="none" stroke="#b455ea" stroke-width="0.95"/>
<path d="M397.42 458.20 L400.32 463.20 L394.52 463.20 Z" fill="none" stroke="#b455ea" stroke-width="0.95"/>
<path d="M423.45 458.20 L426.35 463.20 L420.55 463.20 Z" fill="none" stroke="#b455ea" stroke-width="0.95"/>
<line x1="300.00" y1="376.80" x2="310.80" y2="376.80" stroke="#f0a03c" stroke-width="1.20"/>
<circle cx="305.40" cy="376.80" r="2.60" fill="#f0a03c" stroke="none" stroke-width="1.00"/>
<text x="316.70" y="379.30" font-size="7.00" font-weight="bold" text-anchor="start" fill="#111" stroke="#111" stroke-width="0.14">WT</text>
<line x1="300.00" y1="388.20" x2="310.80" y2="388.20" stroke="#5ca6f4" stroke-width="1.20"/>
<rect x="303.05" y="385.85" width="4.70" height="4.70" fill="#5ca6f4" stroke="none" stroke-width="1.00" rx="0.00"/>
<text x="316.70" y="390.70" font-size="7.00" font-weight="bold" text-anchor="start" fill="#111" stroke="#111" stroke-width="0.14">Δ<tspan font-style="italic">dspII</tspan></text>
<line x1="300.00" y1="399.70" x2="310.80" y2="399.70" stroke="#b455ea" stroke-width="1.20"/>
<path d="M305.40 396.58 L308.40 401.78 L302.40 401.78 Z" fill="#b455ea" stroke="none" stroke-width="1.00"/>
<text x="316.70" y="402.20" font-size="7.00" font-weight="bold" text-anchor="start" fill="#111" stroke="#111" stroke-width="0.14">Δ<tspan font-style="italic">dspI</tspan></text>
<line x1="350.80" y1="376.80" x2="353.80" y2="376.80" stroke="#f0a03c" stroke-width="1.20"/>
<line x1="355.40" y1="376.80" x2="357.40" y2="376.80" stroke="#f0a03c" stroke-width="1.00"/>
<line x1="360.20" y1="376.80" x2="362.00" y2="376.80" stroke="#f0a03c" stroke-width="1.20"/>
<circle cx="356.40" cy="376.80" r="2.40" fill="none" stroke="#f0a03c" stroke-width="0.95"/>
<text x="367.80" y="379.30" font-size="7.00" font-weight="bold" text-anchor="start" fill="#111" stroke="#111" stroke-width="0.14">Δ<tspan font-style="italic">gacA</tspan></text>
<line x1="350.80" y1="388.20" x2="353.80" y2="388.20" stroke="#5ca6f4" stroke-width="1.20"/>
<line x1="355.40" y1="388.20" x2="357.40" y2="388.20" stroke="#5ca6f4" stroke-width="1.00"/>
<line x1="360.20" y1="388.20" x2="362.00" y2="388.20" stroke="#5ca6f4" stroke-width="1.20"/>
<rect x="354.20" y="386.00" width="4.40" height="4.40" fill="none" stroke="#5ca6f4" stroke-width="0.95" rx="0.00"/>
<text x="367.80" y="390.70" font-size="7.00" font-weight="bold" text-anchor="start" fill="#111" stroke="#111" stroke-width="0.14">Δ<tspan font-style="italic">dspII</tspan>Δ<tspan font-style="italic">gacA</tspan></text>
<line x1="350.80" y1="399.70" x2="353.80" y2="399.70" stroke="#b455ea" stroke-width="1.20"/>
<line x1="355.40" y1="399.70" x2="357.40" y2="399.70" stroke="#b455ea" stroke-width="1.00"/>
<line x1="360.20" y1="399.70" x2="362.00" y2="399.70" stroke="#b455ea" stroke-width="1.20"/>
<path d="M356.40 396.70 L359.30 401.70 L353.50 401.70 Z" fill="none" stroke="#b455ea" stroke-width="0.95"/>
<text x="367.80" y="402.20" font-size="7.00" font-weight="bold" text-anchor="start" fill="#111" stroke="#111" stroke-width="0.14">Δ<tspan font-style="italic">dspI</tspan>Δ<tspan font-style="italic">gacA</tspan></text>
<text x="248.00" y="427.30" font-size="8.30" font-weight="bold" text-anchor="middle" fill="#111" transform="rotate(-90.00 248.00 427.30)" stroke="#111" stroke-width="0.14">Relative fluorescence</text>
<text x="256.60" y="427.00" font-size="8.30" font-weight="bold" text-anchor="middle" fill="#111" transform="rotate(-90.00 256.60 427.00)" stroke="#111" stroke-width="0.14">(P<tspan font-style="italic">rsmY-gfp</tspan>)</text>
<line x1="294.20" y1="532.50" x2="294.20" y2="601.00" stroke="#1a1a1a" stroke-width="1.00"/>
<line x1="294.20" y1="608.70" x2="294.20" y2="638.70" stroke="#1a1a1a" stroke-width="1.00"/>
<line x1="290.70" y1="601.00" x2="297.70" y2="601.00" stroke="#1a1a1a" stroke-width="1.00"/>
<line x1="290.70" y1="608.70" x2="297.70" y2="608.70" stroke="#1a1a1a" stroke-width="1.00"/>
<line x1="290.20" y1="532.50" x2="294.20" y2="532.50" stroke="#1a1a1a" stroke-width="1.00"/>
<text x="289.40" y="534.88" font-size="6.60" font-weight="bold" text-anchor="end" fill="#111" stroke="#111" stroke-width="0.14">1×10<tspan dy="-2.38" font-size="4.62">6</tspan><tspan dy="2.38"> </tspan></text>
<line x1="290.20" y1="547.78" x2="294.20" y2="547.78" stroke="#1a1a1a" stroke-width="1.00"/>
<text x="289.40" y="550.16" font-size="6.60" font-weight="bold" text-anchor="end" fill="#111" stroke="#111" stroke-width="0.14">8×10<tspan dy="-2.38" font-size="4.62">5</tspan><tspan dy="2.38"> </tspan></text>
<line x1="290.20" y1="563.06" x2="294.20" y2="563.06" stroke="#1a1a1a" stroke-width="1.00"/>
<text x="289.40" y="565.44" font-size="6.60" font-weight="bold" text-anchor="end" fill="#111" stroke="#111" stroke-width="0.14">6×10<tspan dy="-2.38" font-size="4.62">5</tspan><tspan dy="2.38"> </tspan></text>
<line x1="290.20" y1="578.34" x2="294.20" y2="578.34" stroke="#1a1a1a" stroke-width="1.00"/>
<text x="289.40" y="580.72" font-size="6.60" font-weight="bold" text-anchor="end" fill="#111" stroke="#111" stroke-width="0.14">4×10<tspan dy="-2.38" font-size="4.62">5</tspan><tspan dy="2.38"> </tspan></text>
<line x1="290.20" y1="593.62" x2="294.20" y2="593.62" stroke="#1a1a1a" stroke-width="1.00"/>
<text x="289.40" y="596.00" font-size="6.60" font-weight="bold" text-anchor="end" fill="#111" stroke="#111" stroke-width="0.14">2×10<tspan dy="-2.38" font-size="4.62">5</tspan><tspan dy="2.38"> </tspan></text>
<line x1="290.20" y1="608.70" x2="294.20" y2="608.70" stroke="#1a1a1a" stroke-width="1.00"/>
<text x="289.40" y="611.08" font-size="6.60" font-weight="bold" text-anchor="end" fill="#111" stroke="#111" stroke-width="0.14">3×10<tspan dy="-2.38" font-size="4.62">4</tspan><tspan dy="2.38"> </tspan></text>
<line x1="290.20" y1="623.70" x2="294.20" y2="623.70" stroke="#1a1a1a" stroke-width="1.00"/>
<text x="289.40" y="626.08" font-size="6.60" font-weight="bold" text-anchor="end" fill="#111" stroke="#111" stroke-width="0.14">1.5×10<tspan dy="-2.38" font-size="4.62">4</tspan><tspan dy="2.38"> </tspan></text>
<line x1="290.20" y1="638.70" x2="294.20" y2="638.70" stroke="#1a1a1a" stroke-width="1.00"/>
<text x="289.40" y="641.08" font-size="6.60" font-weight="bold" text-anchor="end" fill="#111" stroke="#111" stroke-width="0.14">0</text>
<line x1="294.20" y1="638.70" x2="425.20" y2="638.70" stroke="#1a1a1a" stroke-width="1.00"/>
<line x1="294.20" y1="638.70" x2="294.20" y2="642.70" stroke="#1a1a1a" stroke-width="1.00"/>
<text x="294.20" y="650.10" font-size="7.00" font-weight="bold" text-anchor="middle" fill="#111" stroke="#111" stroke-width="0.14">4</text>
<line x1="320.40" y1="638.70" x2="320.40" y2="642.70" stroke="#1a1a1a" stroke-width="1.00"/>
<text x="320.40" y="650.10" font-size="7.00" font-weight="bold" text-anchor="middle" fill="#111" stroke="#111" stroke-width="0.14">8</text>
<line x1="346.60" y1="638.70" x2="346.60" y2="642.70" stroke="#1a1a1a" stroke-width="1.00"/>
<text x="346.60" y="650.10" font-size="7.00" font-weight="bold" text-anchor="middle" fill="#111" stroke="#111" stroke-width="0.14">12</text>
<line x1="372.80" y1="638.70" x2="372.80" y2="642.70" stroke="#1a1a1a" stroke-width="1.00"/>
<text x="372.80" y="650.10" font-size="7.00" font-weight="bold" text-anchor="middle" fill="#111" stroke="#111" stroke-width="0.14">16</text>
<line x1="399.00" y1="638.70" x2="399.00" y2="642.70" stroke="#1a1a1a" stroke-width="1.00"/>
<text x="399.00" y="650.10" font-size="7.00" font-weight="bold" text-anchor="middle" fill="#111" stroke="#111" stroke-width="0.14">20</text>
<line x1="425.20" y1="638.70" x2="425.20" y2="642.70" stroke="#1a1a1a" stroke-width="1.00"/>
<text x="425.20" y="650.10" font-size="7.00" font-weight="bold" text-anchor="middle" fill="#111" stroke="#111" stroke-width="0.14">24</text>
<text x="359.40" y="661.00" font-size="8.30" font-weight="bold" text-anchor="middle" fill="#111" stroke="#111" stroke-width="0.14">Time (h)</text>
<polyline points="320.40,595.50 346.60,589.60 372.80,585.30 399.00,577.40 425.20,567.10" fill="none" stroke="#f0a03c" stroke-width="1.20"/>
<circle cx="320.40" cy="595.50" r="2.60" fill="#f0a03c" stroke="none" stroke-width="1.00"/>
<circle cx="346.60" cy="589.60" r="2.60" fill="#f0a03c" stroke="none" stroke-width="1.00"/>
<circle cx="372.80" cy="585.30" r="2.60" fill="#f0a03c" stroke="none" stroke-width="1.00"/>
<circle cx="399.00" cy="577.40" r="2.60" fill="#f0a03c" stroke="none" stroke-width="1.00"/>
<circle cx="425.20" cy="567.10" r="2.60" fill="#f0a03c" stroke="none" stroke-width="1.00"/>
<polyline points="320.40,598.40 346.60,590.00 372.80,580.20 399.00,568.60 425.20,555.70" fill="none" stroke="#5ca6f4" stroke-width="1.20"/>
<rect x="318.05" y="596.05" width="4.70" height="4.70" fill="#5ca6f4" stroke="none" stroke-width="1.00" rx="0.00"/>
<rect x="344.25" y="587.65" width="4.70" height="4.70" fill="#5ca6f4" stroke="none" stroke-width="1.00" rx="0.00"/>
<rect x="370.45" y="577.85" width="4.70" height="4.70" fill="#5ca6f4" stroke="none" stroke-width="1.00" rx="0.00"/>
<rect x="396.65" y="566.25" width="4.70" height="4.70" fill="#5ca6f4" stroke="none" stroke-width="1.00" rx="0.00"/>
<rect x="422.85" y="553.35" width="4.70" height="4.70" fill="#5ca6f4" stroke="none" stroke-width="1.00" rx="0.00"/>
<polyline points="320.40,596.60 346.60,588.30 372.80,579.10 399.00,564.40 425.20,554.40" fill="none" stroke="#b455ea" stroke-width="1.20"/>
<path d="M320.40 593.48 L323.40 598.68 L317.40 598.68 Z" fill="#b455ea" stroke="none" stroke-width="1.00"/>
<path d="M346.60 585.18 L349.60 590.38 L343.60 590.38 Z" fill="#b455ea" stroke="none" stroke-width="1.00"/>
<path d="M372.80 575.98 L375.80 581.18 L369.80 581.18 Z" fill="#b455ea" stroke="none" stroke-width="1.00"/>
<path d="M399.00 561.28 L402.00 566.48 L396.00 566.48 Z" fill="#b455ea" stroke="none" stroke-width="1.00"/>
<path d="M425.20 551.28 L428.20 556.48 L422.20 556.48 Z" fill="#b455ea" stroke="none" stroke-width="1.00"/>
<polyline points="320.40,632.80 346.60,628.80 372.80,622.50 399.00,619.20 425.20,617.90" fill="none" stroke="#f0a03c" stroke-width="1.20" stroke-dasharray="3.2,2.0"/>
<circle cx="320.40" cy="632.80" r="2.40" fill="none" stroke="#f0a03c" stroke-width="0.95"/>
<circle cx="346.60" cy="628.80" r="2.40" fill="none" stroke="#f0a03c" stroke-width="0.95"/>
<circle cx="372.80" cy="622.50" r="2.40" fill="none" stroke="#f0a03c" stroke-width="0.95"/>
<circle cx="399.00" cy="619.20" r="2.40" fill="none" stroke="#f0a03c" stroke-width="0.95"/>
<circle cx="425.20" cy="617.90" r="2.40" fill="none" stroke="#f0a03c" stroke-width="0.95"/>
<polyline points="320.40,631.00 346.60,627.70 372.80,625.10 399.00,621.40 425.20,619.60" fill="none" stroke="#5ca6f4" stroke-width="1.20" stroke-dasharray="3.2,2.0"/>
<rect x="318.20" y="628.80" width="4.40" height="4.40" fill="none" stroke="#5ca6f4" stroke-width="0.95" rx="0.00"/>
<rect x="344.40" y="625.50" width="4.40" height="4.40" fill="none" stroke="#5ca6f4" stroke-width="0.95" rx="0.00"/>
<rect x="370.60" y="622.90" width="4.40" height="4.40" fill="none" stroke="#5ca6f4" stroke-width="0.95" rx="0.00"/>
<rect x="396.80" y="619.20" width="4.40" height="4.40" fill="none" stroke="#5ca6f4" stroke-width="0.95" rx="0.00"/>
<rect x="423.00" y="617.40" width="4.40" height="4.40" fill="none" stroke="#5ca6f4" stroke-width="0.95" rx="0.00"/>
<polyline points="320.40,630.10 346.60,628.40 372.80,624.00 399.00,619.60 425.20,617.40" fill="none" stroke="#b455ea" stroke-width="1.20" stroke-dasharray="3.2,2.0"/>
<path d="M320.40 627.10 L323.30 632.10 L317.50 632.10 Z" fill="none" stroke="#b455ea" stroke-width="0.95"/>
<path d="M346.60 625.40 L349.50 630.40 L343.70 630.40 Z" fill="none" stroke="#b455ea" stroke-width="0.95"/>
<path d="M372.80 621.00 L375.70 626.00 L369.90 626.00 Z" fill="none" stroke="#b455ea" stroke-width="0.95"/>
<path d="M399.00 616.60 L401.90 621.60 L396.10 621.60 Z" fill="none" stroke="#b455ea" stroke-width="0.95"/>
<path d="M425.20 614.40 L428.10 619.40 L422.30 619.40 Z" fill="none" stroke="#b455ea" stroke-width="0.95"/>
<line x1="301.00" y1="533.00" x2="311.80" y2="533.00" stroke="#f0a03c" stroke-width="1.20"/>
<circle cx="306.40" cy="533.00" r="2.60" fill="#f0a03c" stroke="none" stroke-width="1.00"/>
<text x="317.60" y="535.50" font-size="7.00" font-weight="bold" text-anchor="start" fill="#111" stroke="#111" stroke-width="0.14">WT</text>
<line x1="301.00" y1="544.30" x2="311.80" y2="544.30" stroke="#5ca6f4" stroke-width="1.20"/>
<rect x="304.05" y="541.95" width="4.70" height="4.70" fill="#5ca6f4" stroke="none" stroke-width="1.00" rx="0.00"/>
<text x="317.60" y="546.80" font-size="7.00" font-weight="bold" text-anchor="start" fill="#111" stroke="#111" stroke-width="0.14">Δ<tspan font-style="italic">dspII</tspan></text>
<line x1="301.00" y1="555.60" x2="311.80" y2="555.60" stroke="#b455ea" stroke-width="1.20"/>
<path d="M306.40 552.48 L309.40 557.68 L303.40 557.68 Z" fill="#b455ea" stroke="none" stroke-width="1.00"/>
<text x="317.60" y="558.10" font-size="7.00" font-weight="bold" text-anchor="start" fill="#111" stroke="#111" stroke-width="0.14">Δ<tspan font-style="italic">dspI</tspan></text>
<line x1="350.80" y1="533.00" x2="353.80" y2="533.00" stroke="#f0a03c" stroke-width="1.20"/>
<line x1="355.40" y1="533.00" x2="357.40" y2="533.00" stroke="#f0a03c" stroke-width="1.00"/>
<line x1="360.20" y1="533.00" x2="362.00" y2="533.00" stroke="#f0a03c" stroke-width="1.20"/>
<circle cx="356.40" cy="533.00" r="2.40" fill="none" stroke="#f0a03c" stroke-width="0.95"/>
<text x="368.20" y="535.50" font-size="7.00" font-weight="bold" text-anchor="start" fill="#111" stroke="#111" stroke-width="0.14">Δ<tspan font-style="italic">gacA</tspan></text>
<line x1="350.80" y1="544.30" x2="353.80" y2="544.30" stroke="#5ca6f4" stroke-width="1.20"/>
<line x1="355.40" y1="544.30" x2="357.40" y2="544.30" stroke="#5ca6f4" stroke-width="1.00"/>
<line x1="360.20" y1="544.30" x2="362.00" y2="544.30" stroke="#5ca6f4" stroke-width="1.20"/>
<rect x="354.20" y="542.10" width="4.40" height="4.40" fill="none" stroke="#5ca6f4" stroke-width="0.95" rx="0.00"/>
<text x="368.20" y="546.80" font-size="7.00" font-weight="bold" text-anchor="start" fill="#111" stroke="#111" stroke-width="0.14">Δ<tspan font-style="italic">dspII</tspan>Δ<tspan font-style="italic">gacA</tspan></text>
<line x1="350.80" y1="555.60" x2="353.80" y2="555.60" stroke="#b455ea" stroke-width="1.20"/>
<line x1="355.40" y1="555.60" x2="357.40" y2="555.60" stroke="#b455ea" stroke-width="1.00"/>
<line x1="360.20" y1="555.60" x2="362.00" y2="555.60" stroke="#b455ea" stroke-width="1.20"/>
<path d="M356.40 552.60 L359.30 557.60 L353.50 557.60 Z" fill="none" stroke="#b455ea" stroke-width="0.95"/>
<text x="368.20" y="558.10" font-size="7.00" font-weight="bold" text-anchor="start" fill="#111" stroke="#111" stroke-width="0.14">Δ<tspan font-style="italic">dspI</tspan>Δ<tspan font-style="italic">gacA</tspan></text>
<text x="248.50" y="584.90" font-size="8.30" font-weight="bold" text-anchor="middle" fill="#111" transform="rotate(-90.00 248.50 584.90)" stroke="#111" stroke-width="0.14">Relative fluorescence</text>
<text x="258.60" y="585.50" font-size="8.30" font-weight="bold" text-anchor="middle" fill="#111" transform="rotate(-90.00 258.60 585.50)" stroke="#111" stroke-width="0.14">(P<tspan font-style="italic">rsmZ-gfp</tspan>)</text>
<line x1="521.40" y1="372.50" x2="521.40" y2="478.40" stroke="#1a1a1a" stroke-width="1.00"/>
<line x1="517.40" y1="478.40" x2="521.40" y2="478.40" stroke="#1a1a1a" stroke-width="1.00"/>
<text x="516.10" y="480.92" font-size="7.00" font-weight="bold" text-anchor="end" fill="#111" stroke="#111" stroke-width="0.14">0</text>
<line x1="517.40" y1="443.10" x2="521.40" y2="443.10" stroke="#1a1a1a" stroke-width="1.00"/>
<text x="516.10" y="445.62" font-size="7.00" font-weight="bold" text-anchor="end" fill="#111" stroke="#111" stroke-width="0.14">1000</text>
<line x1="517.40" y1="407.80" x2="521.40" y2="407.80" stroke="#1a1a1a" stroke-width="1.00"/>
<text x="516.10" y="410.32" font-size="7.00" font-weight="bold" text-anchor="end" fill="#111" stroke="#111" stroke-width="0.14">2000</text>
<line x1="517.40" y1="372.50" x2="521.40" y2="372.50" stroke="#1a1a1a" stroke-width="1.00"/>
<text x="516.10" y="375.02" font-size="7.00" font-weight="bold" text-anchor="end" fill="#111" stroke="#111" stroke-width="0.14">3000</text>
<line x1="521.40" y1="478.40" x2="646.00" y2="478.40" stroke="#1a1a1a" stroke-width="1.00"/>
<rect x="526.25" y="419.54" width="14.30" height="58.86" fill="#98c6f8" stroke="#111" stroke-width="1.10" rx="0.00"/>
<line x1="533.40" y1="422.87" x2="533.40" y2="415.11" stroke="#111" stroke-width="1.10"/>
<line x1="529.40" y1="422.87" x2="537.40" y2="422.87" stroke="#111" stroke-width="1.10"/>
<line x1="529.40" y1="415.11" x2="537.40" y2="415.11" stroke="#111" stroke-width="1.10"/>
<circle cx="533.40" cy="413.00" r="1.30" fill="#666" stroke="#111" stroke-width="0.90"/>
<circle cx="529.50" cy="421.00" r="1.30" fill="#666" stroke="#111" stroke-width="0.90"/>
<circle cx="537.50" cy="421.00" r="1.30" fill="#666" stroke="#111" stroke-width="0.90"/>
<text x="533.40" y="409.20" font-size="7.00" font-weight="bold" text-anchor="middle" fill="#111" stroke="#111" stroke-width="0.14">1683</text>
<line x1="533.40" y1="478.40" x2="533.40" y2="482.40" stroke="#1a1a1a" stroke-width="1.00"/>
<text x="535.80" y="490.20" font-size="6.90" font-weight="bold" text-anchor="end" fill="#111" transform="rotate(-45.00 535.80 490.20)" stroke="#111" stroke-width="0.14">WT</text>
<rect x="546.20" y="435.21" width="14.30" height="43.19" fill="#98c6f8" stroke="#111" stroke-width="1.10" rx="0.00"/>
<line x1="553.35" y1="436.08" x2="553.35" y2="433.25" stroke="#111" stroke-width="1.10"/>
<line x1="549.35" y1="436.08" x2="557.35" y2="436.08" stroke="#111" stroke-width="1.10"/>
<line x1="549.35" y1="433.25" x2="557.35" y2="433.25" stroke="#111" stroke-width="1.10"/>
<circle cx="550.50" cy="434.80" r="1.30" fill="#666" stroke="#111" stroke-width="0.90"/>
<circle cx="553.30" cy="436.50" r="1.30" fill="#666" stroke="#111" stroke-width="0.90"/>
<circle cx="556.00" cy="433.00" r="1.30" fill="#666" stroke="#111" stroke-width="0.90"/>
<text x="553.35" y="429.10" font-size="7.00" font-weight="bold" text-anchor="middle" fill="#111" stroke="#111" stroke-width="0.14">1239</text>
<line x1="553.35" y1="478.40" x2="553.35" y2="482.40" stroke="#1a1a1a" stroke-width="1.00"/>
<text x="555.75" y="490.20" font-size="6.90" font-weight="bold" text-anchor="end" fill="#111" transform="rotate(-45.00 555.75 490.20)" stroke="#111" stroke-width="0.14">Δ<tspan font-style="italic">dspII</tspan></text>
<rect x="566.15" y="437.61" width="14.30" height="40.79" fill="#98c6f8" stroke="#111" stroke-width="1.10" rx="0.00"/>
<line x1="573.30" y1="439.18" x2="573.30" y2="434.95" stroke="#111" stroke-width="1.10"/>
<line x1="569.30" y1="439.18" x2="577.30" y2="439.18" stroke="#111" stroke-width="1.10"/>
<line x1="569.30" y1="434.95" x2="577.30" y2="434.95" stroke="#111" stroke-width="1.10"/>
<circle cx="571.50" cy="436.00" r="1.30" fill="#666" stroke="#111" stroke-width="0.90"/>
<circle cx="573.20" cy="438.80" r="1.30" fill="#666" stroke="#111" stroke-width="0.90"/>
<circle cx="573.50" cy="434.00" r="1.30" fill="#666" stroke="#111" stroke-width="0.90"/>
<text x="573.30" y="430.20" font-size="7.00" font-weight="bold" text-anchor="middle" fill="#111" stroke="#111" stroke-width="0.14">1171</text>
<line x1="573.30" y1="478.40" x2="573.30" y2="482.40" stroke="#1a1a1a" stroke-width="1.00"/>
<text x="575.70" y="490.20" font-size="6.90" font-weight="bold" text-anchor="end" fill="#111" transform="rotate(-45.00 575.70 490.20)" stroke="#111" stroke-width="0.14">Δ<tspan font-style="italic">dspI</tspan></text>
<rect x="586.10" y="406.51" width="14.30" height="71.89" fill="#98c6f8" stroke="#111" stroke-width="1.10" rx="0.00"/>
<line x1="593.25" y1="408.79" x2="593.25" y2="403.14" stroke="#111" stroke-width="1.10"/>
<line x1="589.25" y1="408.79" x2="597.25" y2="408.79" stroke="#111" stroke-width="1.10"/>
<line x1="589.25" y1="403.14" x2="597.25" y2="403.14" stroke="#111" stroke-width="1.10"/>
<circle cx="592.50" cy="402.00" r="1.30" fill="#666" stroke="#111" stroke-width="0.90"/>
<circle cx="589.50" cy="407.00" r="1.30" fill="#666" stroke="#111" stroke-width="0.90"/>
<circle cx="596.50" cy="407.50" r="1.30" fill="#666" stroke="#111" stroke-width="0.90"/>
<text x="593.25" y="398.00" font-size="7.00" font-weight="bold" text-anchor="middle" fill="#111" stroke="#111" stroke-width="0.14">2052</text>
<line x1="593.25" y1="478.40" x2="593.25" y2="482.40" stroke="#1a1a1a" stroke-width="1.00"/>
<text x="595.65" y="490.20" font-size="6.90" font-weight="bold" text-anchor="end" fill="#111" transform="rotate(-45.00 595.65 490.20)" stroke="#111" stroke-width="0.14">Δ<tspan font-style="italic">gacA</tspan></text>
<rect x="606.05" y="408.67" width="14.30" height="69.73" fill="#98c6f8" stroke="#111" stroke-width="1.10" rx="0.00"/>
<line x1="613.20" y1="409.18" x2="613.20" y2="407.06" stroke="#111" stroke-width="1.10"/>
<line x1="609.20" y1="409.18" x2="617.20" y2="409.18" stroke="#111" stroke-width="1.10"/>
<line x1="609.20" y1="407.06" x2="617.20" y2="407.06" stroke="#111" stroke-width="1.10"/>
<circle cx="610.00" cy="408.50" r="1.30" fill="#666" stroke="#111" stroke-width="0.90"/>
<circle cx="613.00" cy="406.50" r="1.30" fill="#666" stroke="#111" stroke-width="0.90"/>
<circle cx="615.50" cy="409.00" r="1.30" fill="#666" stroke="#111" stroke-width="0.90"/>
<text x="613.20" y="401.60" font-size="7.00" font-weight="bold" text-anchor="middle" fill="#111" stroke="#111" stroke-width="0.14">1991</text>
<line x1="613.20" y1="478.40" x2="613.20" y2="482.40" stroke="#1a1a1a" stroke-width="1.00"/>
<text x="615.60" y="490.20" font-size="6.90" font-weight="bold" text-anchor="end" fill="#111" transform="rotate(-45.00 615.60 490.20)" stroke="#111" stroke-width="0.14">Δ<tspan font-style="italic">dspII</tspan>Δ<tspan font-style="italic">gacA</tspan></text>
<rect x="626.00" y="408.81" width="14.30" height="69.59" fill="#98c6f8" stroke="#111" stroke-width="1.10" rx="0.00"/>
<line x1="633.15" y1="408.96" x2="633.15" y2="407.55" stroke="#111" stroke-width="1.10"/>
<line x1="629.15" y1="408.96" x2="637.15" y2="408.96" stroke="#111" stroke-width="1.10"/>
<line x1="629.15" y1="407.55" x2="637.15" y2="407.55" stroke="#111" stroke-width="1.10"/>
<circle cx="630.00" cy="408.50" r="1.30" fill="#666" stroke="#111" stroke-width="0.90"/>
<circle cx="633.10" cy="407.50" r="1.30" fill="#666" stroke="#111" stroke-width="0.90"/>
<circle cx="636.00" cy="408.50" r="1.30" fill="#666" stroke="#111" stroke-width="0.90"/>
<text x="633.15" y="402.90" font-size="7.00" font-weight="bold" text-anchor="middle" fill="#111" stroke="#111" stroke-width="0.14">1987</text>
<line x1="633.15" y1="478.40" x2="633.15" y2="482.40" stroke="#1a1a1a" stroke-width="1.00"/>
<text x="635.55" y="490.20" font-size="6.90" font-weight="bold" text-anchor="end" fill="#111" transform="rotate(-45.00 635.55 490.20)" stroke="#111" stroke-width="0.14">Δ<tspan font-style="italic">dspI</tspan>Δ<tspan font-style="italic">gacA</tspan></text>
<line x1="533.40" y1="378.90" x2="569.00" y2="378.90" stroke="#111" stroke-width="1.00"/>
<text x="551.80" y="374.90" font-size="7.00" font-weight="bold" text-anchor="middle" fill="#111" stroke="#111" stroke-width="0.14"><tspan font-style="italic">p</tspan>=0.0002</text>
<line x1="533.40" y1="393.30" x2="555.00" y2="393.30" stroke="#111" stroke-width="1.00"/>
<text x="544.60" y="390.50" font-size="7.00" font-weight="bold" text-anchor="middle" fill="#111" stroke="#111" stroke-width="0.14"><tspan font-style="italic">p</tspan>=0.0006</text>
<line x1="593.10" y1="373.60" x2="633.80" y2="373.60" stroke="#111" stroke-width="1.00"/>
<text x="613.90" y="370.40" font-size="7.00" font-weight="bold" text-anchor="middle" fill="#111" stroke="#111" stroke-width="0.14"><tspan font-style="italic">p</tspan>=0.9409</text>
<line x1="593.10" y1="387.50" x2="614.80" y2="387.50" stroke="#111" stroke-width="1.00"/>
<text x="604.80" y="384.30" font-size="7.00" font-weight="bold" text-anchor="middle" fill="#111" stroke="#111" stroke-width="0.14"><tspan font-style="italic">p</tspan>=0.9528</text>
<text x="485.00" y="425.70" font-size="8.30" font-weight="bold" text-anchor="middle" fill="#111" transform="rotate(-90.00 485.00 425.70)" stroke="#111" stroke-width="0.14">β-gal activity (Miller Units)</text>
<text x="494.40" y="426.30" font-size="8.45" font-weight="bold" text-anchor="middle" fill="#111" transform="rotate(-90.00 494.40 426.30)" stroke="#111" stroke-width="0.14">(P<tspan font-style="italic">exsCEBA-lacZ</tspan>)</text>
<text x="473.90" y="584.50" font-size="7.00" font-weight="bold" text-anchor="start" fill="#111" stroke="#111" stroke-width="0.14">kDa</text>
<text x="498.80" y="584.70" font-size="7.00" font-weight="bold" text-anchor="middle" fill="#111" stroke="#111" stroke-width="0.14">M</text>
<text x="517.80" y="584.70" font-size="7.00" font-weight="bold" text-anchor="middle" fill="#111" stroke="#111" stroke-width="0.14">WT</text>
<text x="538.90" y="584.60" font-size="7.10" font-weight="bold" text-anchor="start" fill="#111" transform="rotate(-44.00 538.90 584.60)" stroke="#111" stroke-width="0.14">Δ<tspan font-style="italic">dspII</tspan></text>
<text x="559.80" y="584.60" font-size="7.10" font-weight="bold" text-anchor="start" fill="#111" transform="rotate(-44.00 559.80 584.60)" stroke="#111" stroke-width="0.14">Δ<tspan font-style="italic">dspI</tspan></text>
<text x="582.00" y="584.60" font-size="7.10" font-weight="bold" text-anchor="start" fill="#111" transform="rotate(-44.00 582.00 584.60)" stroke="#111" stroke-width="0.14">Δ<tspan font-style="italic">gacA</tspan></text>
<text x="602.80" y="584.60" font-size="7.10" font-weight="bold" text-anchor="start" fill="#111" transform="rotate(-44.00 602.80 584.60)" stroke="#111" stroke-width="0.14">Δ<tspan font-style="italic">dspII</tspan>Δ<tspan font-style="italic">gacA</tspan></text>
<text x="623.40" y="584.60" font-size="7.10" font-weight="bold" text-anchor="start" fill="#111" transform="rotate(-44.00 623.40 584.60)" stroke="#111" stroke-width="0.14">Δ<tspan font-style="italic">dspI</tspan>Δ<tspan font-style="italic">gacA</tspan></text>
<rect x="487.60" y="588.30" width="146.90" height="21.90" fill="#ececec" stroke="#2a2a2a" stroke-width="1.10" rx="0.00"/>
<rect x="487.60" y="614.50" width="146.90" height="21.50" fill="#ececec" stroke="#2a2a2a" stroke-width="1.10" rx="0.00"/>
<text x="480.40" y="596.20" font-size="7.00" font-weight="bold" text-anchor="middle" fill="#111" stroke="#111" stroke-width="0.14">35</text>
<text x="479.40" y="626.10" font-size="7.00" font-weight="bold" text-anchor="middle" fill="#111" stroke="#111" stroke-width="0.14">180</text>
<text x="639.40" y="601.30" font-size="7.00" font-weight="bold" text-anchor="start" fill="#111" stroke="#111" stroke-width="0.14">ExsA</text>
<text x="638.50" y="629.70" font-size="7.00" font-weight="bold" text-anchor="start" fill="#111" stroke="#111" stroke-width="0.14">β-RNAP</text>
<rect x="488.50" y="589.00" width="16.00" height="20.50" fill="#f3f3f3" stroke="none" stroke-width="1.00" rx="0.00" filter="url(#bl2)"/>
<rect x="488.50" y="615.20" width="16.00" height="20.20" fill="#f3f3f3" stroke="none" stroke-width="1.00" rx="0.00" filter="url(#bl2)"/>
<rect x="490.40" y="591.20" width="12.00" height="3.60" rx="1.80" fill="#8a8a8a" filter="url(#bl3)"/>
<rect x="490.50" y="621.00" width="10.00" height="2.20" rx="1.10" fill="#d0d0d0" filter="url(#bl3)"/>
<rect x="507.90" y="597.50" width="17.50" height="4.20" rx="2.10" fill="#7a7a7a" filter="url(#bl3)"/>
<rect x="529.80" y="598.00" width="15.30" height="3.20" rx="1.60" fill="#c0c0c0" filter="url(#bl3)"/>
<rect x="551.70" y="598.00" width="14.90" height="3.20" rx="1.60" fill="#c6c6c6" filter="url(#bl3)"/>
<rect x="571.00" y="595.60" width="19.40" height="7.00" rx="3.50" fill="#020202" filter="url(#bl3)"/>
<rect x="593.00" y="595.80" width="18.20" height="6.60" rx="3.30" fill="#040404" filter="url(#bl3)"/>
<rect x="613.00" y="595.80" width="18.40" height="6.60" rx="3.30" fill="#040404" filter="url(#bl3)"/>
<rect x="510.30" y="620.00" width="12.30" height="3.60" fill="#d4d4d4" filter="url(#bl2)"/>
<path d="M507.90 619.00 L507.90 626.60 Q507.90 628.20 509.50 628.20 L523.40 628.20 Q525.00 628.20 525.00 626.60 L525.00 619.00 L522.60 619.80 L522.60 622.60 L510.30 622.60 L510.30 619.80 Z" fill="url(#ug)" filter="url(#bl3)"/>
<rect x="533.00" y="622.60" width="10.00" height="0.60" fill="#d4d4d4" filter="url(#bl2)"/>
<path d="M530.60 621.60 L530.60 627.40 Q530.60 629.00 532.20 629.00 L543.80 629.00 Q545.40 629.00 545.40 627.40 L545.40 621.60 L543.00 622.40 L543.00 622.20 L533.00 622.20 L533.00 622.40 Z" fill="url(#ug)" filter="url(#bl3)"/>
<rect x="552.70" y="622.60" width="11.10" height="0.60" fill="#d4d4d4" filter="url(#bl2)"/>
<path d="M550.30 621.60 L550.30 627.40 Q550.30 629.00 551.90 629.00 L564.60 629.00 Q566.20 629.00 566.20 627.40 L566.20 621.60 L563.80 622.40 L563.80 622.20 L552.70 622.20 L552.70 622.40 Z" fill="url(#ug)" filter="url(#bl3)"/>
<rect x="573.90" y="621.60" width="12.90" height="1.40" fill="#d4d4d4" filter="url(#bl2)"/>
<path d="M571.50 620.60 L571.50 626.60 Q571.50 628.20 573.10 628.20 L587.60 628.20 Q589.20 628.20 589.20 626.60 L589.20 620.60 L586.80 621.40 L586.80 622.00 L573.90 622.00 L573.90 621.40 Z" fill="url(#ug)" filter="url(#bl3)"/>
<rect x="595.40" y="620.60" width="12.20" height="2.00" fill="#d4d4d4" filter="url(#bl2)"/>
<path d="M593.00 619.60 L593.00 626.40 Q593.00 628.00 594.60 628.00 L608.40 628.00 Q610.00 628.00 610.00 626.40 L610.00 619.60 L607.60 620.40 L607.60 621.60 L595.40 621.60 L595.40 620.40 Z" fill="url(#ug)" filter="url(#bl3)"/>
<rect x="616.20" y="621.20" width="12.20" height="1.60" fill="#d4d4d4" filter="url(#bl2)"/>
<path d="M613.80 620.20 L613.80 626.60 Q613.80 628.20 615.40 628.20 L629.20 628.20 Q630.80 628.20 630.80 626.60 L630.80 620.20 L628.40 621.00 L628.40 621.80 L616.20 621.80 L616.20 621.00 Z" fill="url(#ug)" filter="url(#bl3)"/>
<circle cx="509.2" cy="619.9" r="1.6" fill="#0a0a0a" filter="url(#bl)"/>
<circle cx="523.9" cy="619.9" r="1.6" fill="#0a0a0a" filter="url(#bl)"/>
<rect x="18.00" y="5.00" width="121.60" height="147.30" fill="#f3f3f3" stroke="none" stroke-width="1.00" rx="0.00"/>
<line x1="25.00" y1="11.50" x2="135.00" y2="11.50" stroke="#3d8d26" stroke-width="1.90"/>
<line x1="25.00" y1="31.70" x2="135.00" y2="31.70" stroke="#3d8d26" stroke-width="1.90"/>
<text x="25.00" y="19.40" font-size="7.20" font-weight="normal" text-anchor="start" fill="#999999" stroke="#999999" stroke-width="0.14">OM</text>
<text x="25.60" y="28.30" font-size="7.20" font-weight="normal" text-anchor="start" fill="#999999" stroke="#999999" stroke-width="0.14">IM</text>
<rect x="48.20" y="19.20" width="11.80" height="20.80" fill="#4fd0bc" stroke="#2c9d8c" stroke-width="0.80" rx="2.20"/>
<rect x="78.20" y="19.20" width="11.80" height="20.80" fill="#f7df88" stroke="#e2bb4c" stroke-width="0.80" rx="2.20"/>
<rect x="106.20" y="19.20" width="12.40" height="20.80" fill="#c39ce2" stroke="#9a6cc4" stroke-width="0.80" rx="2.20"/>
<text x="56.60" y="29.60" font-size="7.00" font-weight="bold" text-anchor="middle" fill="#111" transform="rotate(-90.00 56.60 29.60)" stroke="#111" stroke-width="0.14">LadS</text>
<text x="86.60" y="29.60" font-size="7.00" font-weight="bold" text-anchor="middle" fill="#111" transform="rotate(-90.00 86.60 29.60)" stroke="#111" stroke-width="0.14">GacS</text>
<text x="114.90" y="29.60" font-size="7.00" font-weight="bold" text-anchor="middle" fill="#111" transform="rotate(-90.00 114.90 29.60)" stroke="#111" stroke-width="0.14">RetS</text>
<line x1="63.00" y1="38.00" x2="71.00" y2="38.00" stroke="#a0a0a0" stroke-width="1.00"/>
<path d="M74.00 38.00 L70.60 40.11 L70.60 35.89 Z" fill="#a0a0a0" stroke="none" stroke-width="1.00"/>
<line x1="92.60" y1="37.60" x2="104.20" y2="37.60" stroke="#a0a0a0" stroke-width="1.00"/>
<line x1="92.60" y1="35.00" x2="92.60" y2="41.00" stroke="#a0a0a0" stroke-width="1.00"/>
<path d="M84.7 46.2 C84.9 57.5 79.5 64.2 70.0 64.7" fill="none" stroke="#a0a0a0" stroke-width="1.00"/>
<line x1="91.60" y1="64.70" x2="70.00" y2="64.70" stroke="#a0a0a0" stroke-width="1.00"/>
<path d="M67.00 64.70 L70.80 62.34 L70.80 67.06 Z" fill="#a0a0a0" stroke="none" stroke-width="1.00"/>
<rect x="37.40" y="57.90" width="21.40" height="12.00" fill="#e9918a" stroke="#d26a62" stroke-width="0.80" rx="2.00"/>
<rect x="94.60" y="57.90" width="21.20" height="11.80" fill="#e9918a" stroke="#d26a62" stroke-width="0.80" rx="2.00"/>
<text x="48.10" y="66.60" font-size="7.20" font-weight="bold" text-anchor="middle" fill="#111" stroke="#111" stroke-width="0.14">GacA</text>
<text x="105.20" y="66.50" font-size="7.20" font-weight="bold" text-anchor="middle" fill="#111" stroke="#111" stroke-width="0.14">GacA</text>
<circle cx="62.90" cy="59.00" r="3.50" fill="#fff" stroke="#e0403c" stroke-width="0.80"/>
<text x="62.90" y="61.10" font-size="5.40" font-weight="bold" text-anchor="middle" fill="#e0403c" stroke="#e0403c" stroke-width="0.14">P</text>
<path d="M47.4 72.4 C47.2 79.0 43.0 81.0 40.0 83.2" fill="none" stroke="#a0a0a0" stroke-width="1.10"/>
<path d="M37.30 86.20 L38.48 81.16 L42.34 85.02 Z" fill="#a0a0a0" stroke="none" stroke-width="1.00"/>
<path d="M51.2 72.4 C51.4 79.0 55.6 81.0 58.6 83.2" fill="none" stroke="#a0a0a0" stroke-width="1.10"/>
<path d="M61.30 86.20 L56.26 85.02 L60.12 81.16 Z" fill="#a0a0a0" stroke="none" stroke-width="1.00"/>
<text x="19.80" y="96.80" font-size="7.20" font-weight="bold" text-anchor="start" fill="#d65ae2" stroke="#d65ae2" stroke-width="0.14">RsmZ</text>
<text x="59.80" y="96.80" font-size="7.20" font-weight="bold" text-anchor="start" fill="#d65ae2" stroke="#d65ae2" stroke-width="0.14">RsmY</text>
<circle cx="43.00" cy="93.40" r="1.55" fill="#fff" stroke="#7e5092" stroke-width="0.75"/>
<circle cx="44.40" cy="89.80" r="1.55" fill="#fff" stroke="#7e5092" stroke-width="0.75"/>
<circle cx="47.60" cy="88.20" r="1.55" fill="#fff" stroke="#7e5092" stroke-width="0.75"/>
<circle cx="50.80" cy="89.80" r="1.55" fill="#fff" stroke="#7e5092" stroke-width="0.75"/>
<circle cx="52.20" cy="93.40" r="1.55" fill="#fff" stroke="#7e5092" stroke-width="0.75"/>
<circle cx="47.60" cy="91.60" r="1.20" fill="#fff" stroke="#7e5092" stroke-width="0.60"/>
<circle cx="48.37" cy="103.52" r="1.63" fill="#fff" stroke="#7e5092" stroke-width="0.75"/>
<circle cx="49.84" cy="99.74" r="1.63" fill="#fff" stroke="#7e5092" stroke-width="0.75"/>
<circle cx="53.20" cy="98.06" r="1.63" fill="#fff" stroke="#7e5092" stroke-width="0.75"/>
<circle cx="56.56" cy="99.74" r="1.63" fill="#fff" stroke="#7e5092" stroke-width="0.75"/>
<circle cx="58.03" cy="103.52" r="1.63" fill="#fff" stroke="#7e5092" stroke-width="0.75"/>
<circle cx="53.20" cy="101.63" r="1.26" fill="#fff" stroke="#7e5092" stroke-width="0.60"/>
<line x1="43.30" y1="105.50" x2="41.20" y2="113.00" stroke="#a0a0a0" stroke-width="1.00"/>
<path d="M40.80 117.20 L38.88 112.39 L44.25 113.34 Z" fill="#a0a0a0" stroke="none" stroke-width="1.00"/>
<path d="M32.5 138.3 C32.0 135.0 32.8 132.8 35.2 131.4 C37.5 130.6 40.0 130.8 41.6 130.2 C43.0 129.4 43.6 127.2 45.2 126.9 C46.8 126.7 48.0 129.0 50.3 130.8 C52.0 132.0 54.2 133.0 53.9 135.0 C53.6 137.5 51.5 140.8 48.5 141.0 C46.5 141.0 45.5 139.6 44.0 139.4 C41.0 139.0 38.0 139.6 35.0 139.4 C33.6 139.3 32.7 139.0 32.5 138.3 Z" fill="#bde88f" stroke="#1e1e1e" stroke-width="0.85"/>
<circle cx="41.63" cy="126.68" r="1.47" fill="#fff" stroke="#7e5092" stroke-width="0.75"/>
<circle cx="42.96" cy="123.26" r="1.47" fill="#fff" stroke="#7e5092" stroke-width="0.75"/>
<circle cx="46.00" cy="121.74" r="1.47" fill="#fff" stroke="#7e5092" stroke-width="0.75"/>
<circle cx="49.04" cy="123.26" r="1.47" fill="#fff" stroke="#7e5092" stroke-width="0.75"/>
<circle cx="50.37" cy="126.68" r="1.47" fill="#fff" stroke="#7e5092" stroke-width="0.75"/>
<circle cx="46.00" cy="124.97" r="1.14" fill="#fff" stroke="#7e5092" stroke-width="0.60"/>
<circle cx="29.90" cy="129.00" r="1.45" fill="#fff" stroke="#7e5092" stroke-width="0.70"/>
<circle cx="31.70" cy="126.40" r="1.45" fill="#fff" stroke="#7e5092" stroke-width="0.70"/>
<circle cx="29.30" cy="132.00" r="1.45" fill="#fff" stroke="#7e5092" stroke-width="0.70"/>
<circle cx="32.50" cy="130.20" r="1.45" fill="#fff" stroke="#7e5092" stroke-width="0.70"/>
<circle cx="33.30" cy="124.40" r="1.45" fill="#fff" stroke="#7e5092" stroke-width="0.70"/>
<circle cx="30.70" cy="134.20" r="1.45" fill="#fff" stroke="#7e5092" stroke-width="0.70"/>
<text x="52.50" y="148.40" font-size="7.40" font-weight="bold" text-anchor="middle" fill="#3d6a2c" stroke="#3d6a2c" stroke-width="0.14">RsmA</text>
<path d="M75.4 132.6 C72.0 130.0 67.5 129.8 63.0 131.2" fill="none" stroke="#a0a0a0" stroke-width="1.00"/>
<path d="M60.00 132.30 L62.90 129.21 L64.06 133.52 Z" fill="#a0a0a0" stroke="none" stroke-width="1.00"/>
<polyline points="77.00,137.33 77.50,137.99 78.00,138.68 78.50,139.33 79.00,139.84 79.50,140.14 80.00,140.19 80.50,139.98 81.00,139.55 81.50,138.95 82.00,138.26 82.50,137.58 83.00,136.99 83.50,136.58 84.00,136.41 84.50,136.48 85.00,136.81 85.50,137.33 86.00,137.99 86.50,138.68 87.00,139.33 87.50,139.84 88.00,140.14 88.50,140.19 89.00,139.98 89.50,139.55 90.00,138.95 90.50,138.26 91.00,137.58 91.50,136.99 92.00,136.58 92.50,136.41 93.00,136.48 93.50,136.81 94.00,137.33 94.50,137.99 95.00,138.68 95.50,139.33 96.00,139.84 96.50,140.14 97.00,140.19 97.50,139.98 98.00,139.55 98.50,138.95 99.00,138.26 99.50,137.58 100.00,136.99 100.50,136.58 101.00,136.41 101.50,136.48 102.00,136.81 102.50,137.33 103.00,137.99 103.50,138.68 104.00,139.33 104.50,139.84 105.00,140.14 105.50,140.19 106.00,139.98 106.50,139.55 107.00,138.95 107.50,138.26 108.00,137.58 108.50,136.99 109.00,136.58 109.50,136.41 110.00,136.48 110.50,136.81 111.00,137.33 111.50,137.99 112.00,138.68 112.50,139.33 113.00,139.84 113.50,140.14 114.00,140.19 114.50,139.98 115.00,139.55 115.50,138.95 116.00,138.26 116.50,137.58 117.00,136.99 117.50,136.58 118.00,136.41 118.50,136.48 119.00,136.81 119.50,137.33 120.00,137.99 120.50,138.68 121.00,139.33 121.50,139.84 122.00,140.14 122.50,140.19 123.00,139.98 123.50,139.55 124.00,138.95 124.50,138.26 125.00,137.58 125.50,136.99 126.00,136.58 126.50,136.41 127.00,136.48 127.50,136.81 128.00,137.33 128.50,137.99 129.00,138.68 129.50,139.33 130.00,139.84 130.50,140.14 131.00,140.19 131.50,139.98 132.00,139.55 132.50,138.95 133.00,138.26 133.50,137.58 134.00,136.99" fill="none" stroke="#52b2e4" stroke-width="1.25"/>
<path d="M80.5 137.5 C80.0 134.0 82.5 131.5 86.0 131.0 C88.5 130.6 89.6 129.6 91.5 127.6 C92.5 126.8 93.5 127.4 95.0 129.2 C97.5 132.0 101.5 133.2 103.6 136.0 C104.0 138.5 102.5 141.5 100.0 143.0 C97.0 144.8 95.5 145.6 93.0 144.5 C90.5 143.5 88.0 143.8 85.0 144.2 C82.0 144.6 80.6 142.0 80.5 137.5 Z" fill="#bde88f" stroke="#1e1e1e" stroke-width="0.85"/>
<text x="120.60" y="148.80" font-size="7.20" font-weight="bold" text-anchor="middle" fill="#3aa6dc" stroke="#3aa6dc" stroke-width="0.14">mRNA</text>
<text x="114.80" y="98.00" font-size="7.40" font-weight="bold" text-anchor="middle" fill="#3b7aaa" stroke="#3b7aaa" stroke-width="0.14">T3SS</text>
<line x1="113.60" y1="127.60" x2="113.60" y2="104.50" stroke="#a0a0a0" stroke-width="1.00"/>
<path d="M113.60 101.40 L115.96 105.20 L111.24 105.20 Z" fill="#a0a0a0" stroke="none" stroke-width="1.00"/>
<rect x="92.00" y="111.00" width="43.00" height="9.70" fill="#c6c6c6" stroke="none" stroke-width="1.00" rx="0.00"/>
<text x="113.60" y="118.40" font-size="7.20" font-weight="bold" text-anchor="middle" fill="#ffffff" stroke="#ffffff" stroke-width="0.14">Translation</text>
</svg>
</body></html>
